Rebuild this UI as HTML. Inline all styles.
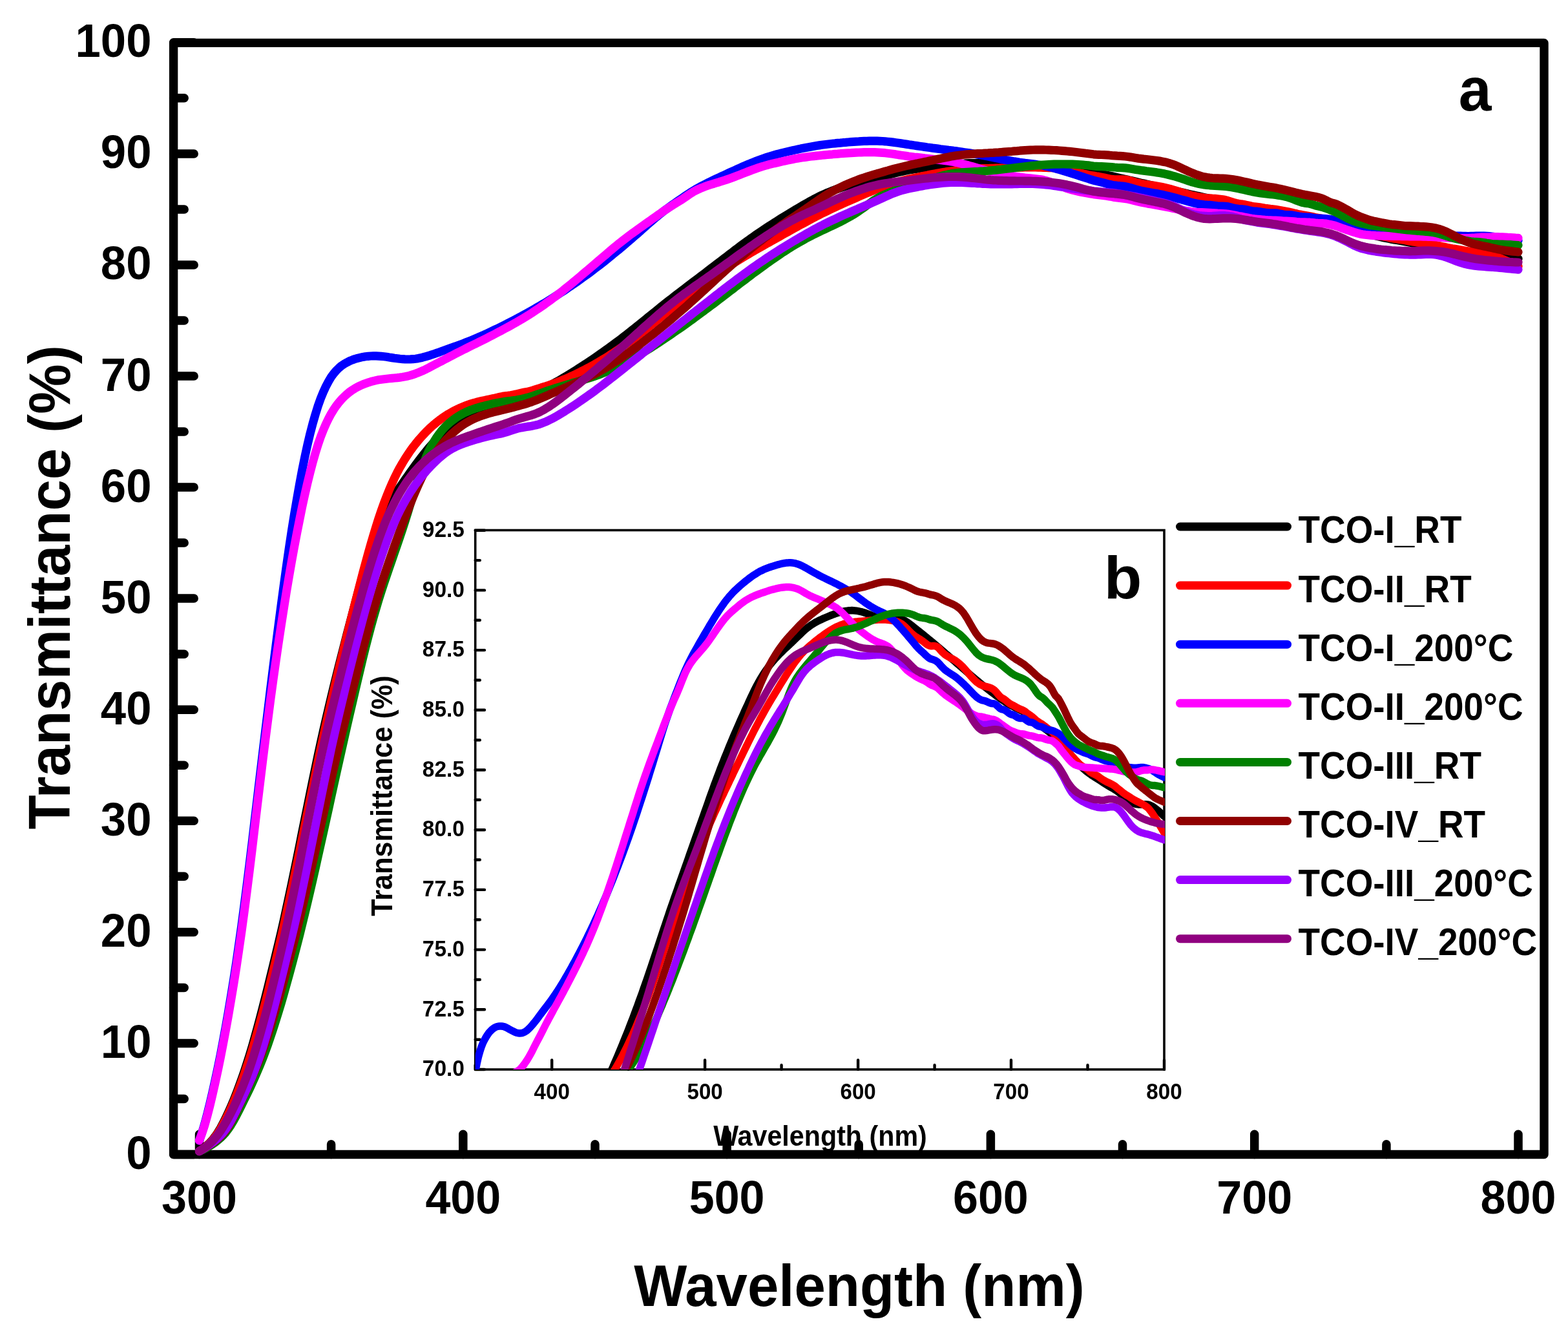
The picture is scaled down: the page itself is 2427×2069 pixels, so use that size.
<!DOCTYPE html>
<html lang="en">
<head>
<meta charset="utf-8">
<title>Transmittance spectra of TCO films</title>
<style>
html,body{margin:0;padding:0;background:#fff;}
body{width:2427px;height:2069px;overflow:hidden;}
svg{display:block;}
text{font-family:"Liberation Sans",Arial,Helvetica,sans-serif;font-weight:bold;fill:#000;}
.mt{font-size:70px;}
.mtitle{font-size:87px;}
.it{font-size:33.5px;}
.ititle{font-size:42px;}
.leg{font-size:56px;}
.lab{font-size:96px;}
.c{fill:none;stroke-linejoin:round;stroke-linecap:round;}
.ax{fill:none;stroke:#000;stroke-linecap:round;stroke-linejoin:round;}
</style>
</head>
<body>
<svg xmlns="http://www.w3.org/2000/svg" width="2427" height="2069" viewBox="0 0 2427 2069">
<rect x="0" y="0" width="2427" height="2069" fill="#fff"/>
<defs><clipPath id="ic"><rect x="735.7" y="820.5" width="1067.3" height="834.5"/></clipPath><clipPath id="mc"><rect x="268.6" y="66.4" width="2121.4" height="1728.1"/></clipPath></defs>
<rect class="ax" x="268.6" y="66.4" width="2121.4" height="1720.1" stroke-width="13.4"/>
<g class="ax" stroke-width="13.5">
<path d="M308.5 1786.5V1755.2M512.6 1786.5V1770.8M716.8 1786.5V1755.2M921 1786.5V1770.8M1125.1 1786.5V1755.2M1329.2 1786.5V1770.8M1533.4 1786.5V1755.2M1737.5 1786.5V1770.8M1941.7 1786.5V1755.2M2145.9 1786.5V1770.8M2350 1786.5V1755.2M268.6 1786.5H300.2M268.6 1700.5H285.2M268.6 1614.4H300.2M268.6 1528.4H285.2M268.6 1442.4H300.2M268.6 1356.3H285.2M268.6 1270.3H300.2M268.6 1184.3H285.2M268.6 1098.2H300.2M268.6 1012.2H285.2M268.6 926.1H300.2M268.6 840.1H285.2M268.6 754.1H300.2M268.6 668H285.2M268.6 582H300.2M268.6 496H285.2M268.6 409.9H300.2M268.6 323.9H285.2M268.6 237.9H300.2M268.6 151.8H285.2M268.6 65.8H300.2"/>
</g>
<g class="c" stroke-width="13.2">
<path stroke="#000000" d="M308.5 1781.6 L312.6 1778.8 L316.7 1775.8 L320.7 1772.4 L324.8 1768.5 L328.9 1764 L333 1758.6 L337.1 1752.6 L341.2 1745.8 L345.2 1738.4 L349.3 1730.3 L353.4 1721.6 L357.5 1712.4 L361.6 1702.7 L365.7 1692.5 L369.7 1681.8 L373.8 1670.6 L377.9 1658.8 L382 1646.4 L386.1 1633.4 L390.2 1619.8 L394.2 1605.7 L398.3 1590.9 L402.4 1575.7 L406.5 1560 L410.6 1544 L414.7 1527.7 L418.7 1511.1 L422.8 1494.3 L426.9 1477.3 L431 1460.3 L435.1 1442.9 L439.2 1424.9 L443.2 1406.4 L447.3 1387.5 L451.4 1368.1 L455.5 1348.4 L459.6 1328.5 L463.7 1308.4 L467.7 1288.1 L471.8 1267.9 L475.9 1247.7 L480 1227.6 L484.1 1207.7 L488.2 1188.1 L492.2 1168.8 L496.3 1149.9 L500.4 1131.4 L504.5 1113.6 L508.6 1096 L512.6 1078.9 L516.7 1062.1 L520.8 1045.5 L524.9 1029.2 L529 1013.1 L533.1 997.2 L537.1 981.5 L541.2 965.9 L545.3 950.4 L549.4 934.9 L553.5 919.5 L557.6 904.3 L561.6 889.4 L565.7 874.9 L569.8 860.9 L573.9 847.4 L578 834.6 L582.1 822.6 L586.1 811.4 L590.2 801.2 L594.3 792.1 L598.4 784.4 L602.5 778.2 L606.6 772.2 L610.6 766.1 L614.7 760.1 L618.8 754.1 L622.9 748.2 L627 742.3 L631.1 736.5 L635.1 730.7 L639.2 725 L643.3 719.4 L647.4 713.9 L651.5 708.6 L655.6 703.3 L659.6 698.2 L663.7 693.3 L667.8 688.6 L671.9 684.1 L676 679.8 L680.1 675.7 L684.1 671.9 L688.2 668.4 L692.3 665.1 L696.4 662 L700.5 659.1 L704.6 656.4 L708.6 653.8 L712.7 651.5 L716.8 649.3 L720.9 647.3 L725 645.4 L729 643.7 L733.1 642 L737.2 640.4 L741.3 638.8 L745.4 637.3 L749.5 635.6 L753.5 633.9 L757.6 632.2 L761.7 630.5 L765.8 628.8 L769.9 627.2 L774 625.6 L778 624.2 L782.1 623.1 L786.2 622.8 L790.3 622.9 L794.4 623.2 L798.5 623.3 L802.5 623.1 L806.6 622.2 L810.7 620.4 L814.8 618.1 L818.9 615.7 L823 613.5 L827 611 L831.1 608.4 L835.2 605.8 L839.3 603.3 L843.4 600.9 L847.5 598.5 L851.5 596.3 L855.6 594.1 L859.7 591.8 L863.8 589.6 L867.9 587.2 L872 584.8 L876 582.4 L880.1 579.9 L884.2 577.4 L888.3 574.8 L892.4 572.3 L896.5 569.6 L900.5 567 L904.6 564.4 L908.7 561.7 L912.8 558.9 L916.9 556.2 L921 553.4 L925 550.6 L929.1 547.8 L933.2 544.9 L937.3 542 L941.4 539 L945.4 536.1 L949.5 533.1 L953.6 530 L957.7 527 L961.8 523.9 L965.9 520.7 L969.9 517.6 L974 514.4 L978.1 511.1 L982.2 507.9 L986.3 504.6 L990.4 501.3 L994.4 498.1 L998.5 494.8 L1002.6 491.5 L1006.7 488.2 L1010.8 484.9 L1014.9 481.6 L1018.9 478.3 L1023 475 L1027.1 471.8 L1031.2 468.5 L1035.3 465.3 L1039.4 462.1 L1043.4 459 L1047.5 455.8 L1051.6 452.7 L1055.7 449.6 L1059.8 446.5 L1063.9 443.3 L1067.9 440.2 L1072 437.1 L1076.1 434 L1080.2 430.9 L1084.3 427.8 L1088.4 424.7 L1092.4 421.6 L1096.5 418.4 L1100.6 415.3 L1104.7 412.2 L1108.8 409.1 L1112.9 406 L1116.9 402.9 L1121 399.8 L1125.1 396.7 L1129.2 393.5 L1133.3 390.4 L1137.3 387.3 L1141.4 384.2 L1145.5 381.2 L1149.6 378.1 L1153.7 375.1 L1157.8 372.2 L1161.8 369.2 L1165.9 366.4 L1170 363.5 L1174.1 360.7 L1178.2 358 L1182.3 355.2 L1186.3 352.5 L1190.4 349.8 L1194.5 347.2 L1198.6 344.6 L1202.7 342 L1206.8 339.4 L1210.8 336.8 L1214.9 334.3 L1219 331.9 L1223.1 329.4 L1227.2 327 L1231.3 324.5 L1235.3 322.1 L1239.4 319.7 L1243.5 317.3 L1247.6 315 L1251.7 312.6 L1255.8 310.4 L1259.8 308.1 L1263.9 306 L1268 304 L1272.1 302 L1276.2 300.2 L1280.3 298.4 L1284.3 296.8 L1288.4 295.2 L1292.5 293.6 L1296.6 292.2 L1300.7 290.8 L1304.8 289.4 L1308.8 288.2 L1312.9 286.9 L1317 285.7 L1321.1 284.6 L1325.2 283.4 L1329.2 282.3 L1333.3 281.3 L1337.4 280.2 L1341.5 279.2 L1345.6 278.1 L1349.7 277.1 L1353.7 276.1 L1357.8 275.1 L1361.9 274 L1366 273 L1370.1 271.9 L1374.2 270.8 L1378.2 269.7 L1382.3 268.7 L1386.4 267.7 L1390.5 266.7 L1394.6 265.7 L1398.7 264.8 L1402.7 263.9 L1406.8 263.1 L1410.9 262.4 L1415 261.7 L1419.1 261.1 L1423.2 260.5 L1427.2 259.9 L1431.3 259.4 L1435.4 258.9 L1439.5 258.4 L1443.6 257.9 L1447.7 257.4 L1451.7 256.9 L1455.8 256.5 L1459.9 256 L1464 255.6 L1468.1 255.2 L1472.2 254.8 L1476.2 254.4 L1480.3 254.1 L1484.4 253.7 L1488.5 253.4 L1492.6 253.2 L1496.7 252.9 L1500.7 252.7 L1504.8 252.6 L1508.9 252.5 L1513 252.4 L1517.1 252.4 L1521.2 252.4 L1525.2 252.5 L1529.3 252.6 L1533.4 252.8 L1537.5 253 L1541.6 253.3 L1545.6 253.6 L1549.7 253.9 L1553.8 254.3 L1557.9 254.7 L1562 255.1 L1566.1 255.5 L1570.1 256 L1574.2 256.3 L1578.3 256.7 L1582.4 257 L1586.5 257.2 L1590.6 257.4 L1594.6 257.6 L1598.7 257.7 L1602.8 257.7 L1606.9 257.7 L1611 257.7 L1615.1 257.7 L1619.1 257.7 L1623.2 257.7 L1627.3 257.7 L1631.4 257.7 L1635.5 257.8 L1639.6 258 L1643.6 258.2 L1647.7 258.5 L1651.8 258.9 L1655.9 259.4 L1660 260 L1664.1 260.7 L1668.1 261.5 L1672.2 262.3 L1676.3 263.1 L1680.4 264 L1684.5 264.9 L1688.6 265.8 L1692.6 266.7 L1696.7 267.5 L1700.8 268.4 L1704.9 269.3 L1709 270.2 L1713.1 271.1 L1717.1 271.9 L1721.2 272.8 L1725.3 273.7 L1729.4 274.6 L1733.5 275.6 L1737.5 276.5 L1741.6 277.4 L1745.7 278.3 L1749.8 279.3 L1753.9 280.2 L1758 281.2 L1762 282.1 L1766.1 283.1 L1770.2 284 L1774.3 285 L1778.4 285.9 L1782.5 286.9 L1786.5 287.8 L1790.6 288.8 L1794.7 289.7 L1798.8 290.7 L1802.9 291.7 L1807 292.6 L1811 293.6 L1815.1 294.5 L1819.2 295.5 L1823.3 296.4 L1827.4 297.4 L1831.5 298.3 L1835.5 299.2 L1839.6 300.2 L1843.7 301.1 L1847.8 302 L1851.9 302.9 L1856 303.8 L1860 304.7 L1864.1 305.6 L1868.2 306.5 L1872.3 307.4 L1876.4 308.3 L1880.5 309.1 L1884.5 310 L1888.6 310.8 L1892.7 311.7 L1896.8 312.5 L1900.9 313.3 L1905 314.1 L1909 314.9 L1913.1 315.7 L1917.2 316.5 L1921.3 317.2 L1925.4 318 L1929.5 318.7 L1933.5 319.4 L1937.6 320 L1941.7 320.6 L1945.8 321.2 L1949.9 321.7 L1953.9 322.3 L1958 322.8 L1962.1 323.3 L1966.2 323.9 L1970.3 324.5 L1974.4 325.1 L1978.4 325.7 L1982.5 326.4 L1986.6 327.2 L1990.7 328.1 L1994.8 329 L1998.9 330 L2002.9 331 L2007 332 L2011.1 333 L2015.2 333.9 L2019.3 334.8 L2023.4 335.6 L2027.4 336.4 L2031.5 337.3 L2035.6 338.1 L2039.7 338.9 L2043.8 339.8 L2047.9 340.8 L2051.9 341.7 L2056 342.7 L2060.1 343.8 L2064.2 344.8 L2068.3 345.9 L2072.4 347.1 L2076.4 348.2 L2080.5 349.5 L2084.6 350.8 L2088.7 352.1 L2092.8 353.5 L2096.9 354.8 L2100.9 356.1 L2105 357.4 L2109.1 358.7 L2113.2 360 L2117.3 361.3 L2121.4 362.5 L2125.4 363.7 L2129.5 364.8 L2133.6 365.8 L2137.7 366.8 L2141.8 367.7 L2145.9 368.6 L2149.9 369.4 L2154 370.2 L2158.1 370.9 L2162.2 371.6 L2166.3 372.3 L2170.3 373 L2174.4 373.7 L2178.5 374.4 L2182.6 375.2 L2186.7 375.9 L2190.8 376.6 L2194.8 377.3 L2198.9 378 L2203 378.6 L2207.1 379.3 L2211.2 379.9 L2215.3 380.5 L2219.3 381.2 L2223.4 381.9 L2227.5 382.8 L2231.6 383.6 L2235.7 384.6 L2239.8 385.6 L2243.8 386.5 L2247.9 387.5 L2252 388.4 L2256.1 389.2 L2260.2 389.9 L2264.3 390.5 L2268.3 391 L2272.4 391.3 L2276.5 391.5 L2280.6 391.7 L2284.7 391.7 L2288.8 391.7 L2292.8 391.7 L2296.9 391.6 L2301 391.6 L2305.1 391.7 L2309.2 391.9 L2313.3 392.4 L2317.3 392.9 L2321.4 393.6 L2325.5 394.4 L2329.6 395.2 L2333.7 396.1 L2337.8 397.1 L2341.8 398.1 L2345.9 399.2 L2350 400.3"/>
<path stroke="#ff0000" d="M308.5 1781.6 L312.6 1778.9 L316.7 1775.9 L320.7 1772.6 L324.8 1768.9 L328.9 1764.5 L333 1759.4 L337.1 1753.7 L341.2 1747.2 L345.2 1740.1 L349.3 1732.3 L353.4 1723.9 L357.5 1715 L361.6 1705.6 L365.7 1695.8 L369.7 1685.4 L373.8 1674.5 L377.9 1663.2 L382 1651.2 L386.1 1638.7 L390.2 1625.7 L394.2 1612 L398.3 1597.8 L402.4 1583.1 L406.5 1567.9 L410.6 1552.3 L414.7 1536.3 L418.7 1519.9 L422.8 1503.2 L426.9 1486.2 L431 1468.9 L435.1 1451.5 L439.2 1433.5 L443.2 1415 L447.3 1396.2 L451.4 1377 L455.5 1357.5 L459.6 1337.8 L463.7 1317.9 L467.7 1297.9 L471.8 1277.8 L475.9 1257.7 L480 1237.7 L484.1 1217.8 L488.2 1198.1 L492.2 1178.6 L496.3 1159.3 L500.4 1140.4 L504.5 1122 L508.6 1103.9 L512.6 1086.1 L516.7 1068.5 L520.8 1051.1 L524.9 1033.9 L529 1016.9 L533.1 1000.1 L537.1 983.5 L541.2 967 L545.3 950.6 L549.4 934.4 L553.5 918.3 L557.6 902.4 L561.6 886.8 L565.7 871.6 L569.8 856.7 L573.9 842.3 L578 828.4 L582.1 815 L586.1 802.3 L590.2 790.2 L594.3 778.8 L598.4 768.1 L602.5 757.9 L606.6 748.5 L610.6 739.6 L614.7 731.4 L618.8 723.7 L622.9 716.6 L627 709.9 L631.1 703.6 L635.1 697.6 L639.2 692 L643.3 686.7 L647.4 681.7 L651.5 677 L655.6 672.5 L659.6 668.2 L663.7 664.2 L667.8 660.4 L671.9 656.8 L676 653.4 L680.1 650.2 L684.1 647.3 L688.2 644.5 L692.3 641.8 L696.4 639.4 L700.5 637.1 L704.6 634.9 L708.6 632.9 L712.7 631 L716.8 629.3 L720.9 627.7 L725 626.2 L729 624.8 L733.1 623.6 L737.2 622.5 L741.3 621.5 L745.4 620.5 L749.5 619.6 L753.5 618.8 L757.6 617.9 L761.7 617 L765.8 616.1 L769.9 615.2 L774 614.2 L778 613.4 L782.1 612.8 L786.2 612.3 L790.3 611.7 L794.4 610.9 L798.5 610.1 L802.5 609.2 L806.6 608.2 L810.7 607.3 L814.8 606.6 L818.9 605.7 L823 604.7 L827 603.4 L831.1 602 L835.2 600.7 L839.3 599.4 L843.4 598.2 L847.5 596.9 L851.5 595.5 L855.6 594.1 L859.7 592.6 L863.8 591 L867.9 589.4 L872 587.7 L876 586 L880.1 584.2 L884.2 582.3 L888.3 580.4 L892.4 578.5 L896.5 576.5 L900.5 574.4 L904.6 572.3 L908.7 570.2 L912.8 568 L916.9 565.8 L921 563.5 L925 561.1 L929.1 558.7 L933.2 556.3 L937.3 553.8 L941.4 551.2 L945.4 548.6 L949.5 546 L953.6 543.3 L957.7 540.6 L961.8 537.8 L965.9 534.9 L969.9 532 L974 529.1 L978.1 526.1 L982.2 523.1 L986.3 520 L990.4 516.8 L994.4 513.7 L998.5 510.5 L1002.6 507.2 L1006.7 503.9 L1010.8 500.6 L1014.9 497.3 L1018.9 494 L1023 490.7 L1027.1 487.3 L1031.2 484 L1035.3 480.6 L1039.4 477.3 L1043.4 474 L1047.5 470.7 L1051.6 467.4 L1055.7 464.2 L1059.8 460.9 L1063.9 457.7 L1067.9 454.6 L1072 451.5 L1076.1 448.4 L1080.2 445.3 L1084.3 442.3 L1088.4 439.3 L1092.4 436.3 L1096.5 433.4 L1100.6 430.5 L1104.7 427.7 L1108.8 424.8 L1112.9 422.1 L1116.9 419.3 L1121 416.6 L1125.1 413.9 L1129.2 411.3 L1133.3 408.7 L1137.3 406.1 L1141.4 403.6 L1145.5 401.1 L1149.6 398.6 L1153.7 396.1 L1157.8 393.7 L1161.8 391.3 L1165.9 389 L1170 386.6 L1174.1 384.3 L1178.2 382 L1182.3 379.7 L1186.3 377.3 L1190.4 375.1 L1194.5 372.8 L1198.6 370.5 L1202.7 368.2 L1206.8 365.9 L1210.8 363.6 L1214.9 361.3 L1219 359.1 L1223.1 356.8 L1227.2 354.5 L1231.3 352.3 L1235.3 350 L1239.4 347.8 L1243.5 345.6 L1247.6 343.4 L1251.7 341.2 L1255.8 339 L1259.8 336.8 L1263.9 334.7 L1268 332.6 L1272.1 330.5 L1276.2 328.5 L1280.3 326.5 L1284.3 324.6 L1288.4 322.6 L1292.5 320.7 L1296.6 318.8 L1300.7 317 L1304.8 315.1 L1308.8 313.3 L1312.9 311.5 L1317 309.7 L1321.1 307.9 L1325.2 306.1 L1329.2 304.3 L1333.3 302.5 L1337.4 300.7 L1341.5 299 L1345.6 297.3 L1349.7 295.6 L1353.7 293.9 L1357.8 292.3 L1361.9 290.7 L1366 289.2 L1370.1 287.7 L1374.2 286.3 L1378.2 285 L1382.3 283.7 L1386.4 282.5 L1390.5 281.3 L1394.6 280.2 L1398.7 279.2 L1402.7 278.2 L1406.8 277.2 L1410.9 276.3 L1415 275.4 L1419.1 274.6 L1423.2 273.7 L1427.2 272.8 L1431.3 272 L1435.4 271.2 L1439.5 270.3 L1443.6 269.5 L1447.7 268.8 L1451.7 268 L1455.8 267.3 L1459.9 266.6 L1464 265.9 L1468.1 265.3 L1472.2 264.7 L1476.2 264.2 L1480.3 263.6 L1484.4 263.2 L1488.5 262.7 L1492.6 262.3 L1496.7 262 L1500.7 261.7 L1504.8 261.4 L1508.9 261.2 L1513 261 L1517.1 260.8 L1521.2 260.7 L1525.2 260.6 L1529.3 260.5 L1533.4 260.4 L1537.5 260.3 L1541.6 260.2 L1545.6 260.1 L1549.7 260 L1553.8 259.9 L1557.9 259.8 L1562 259.7 L1566.1 259.5 L1570.1 259.4 L1574.2 259.3 L1578.3 259.2 L1582.4 259.1 L1586.5 259 L1590.6 259 L1594.6 259 L1598.7 259 L1602.8 259 L1606.9 259.1 L1611 259.2 L1615.1 259.3 L1619.1 259.4 L1623.2 259.6 L1627.3 259.7 L1631.4 260 L1635.5 260.3 L1639.6 260.6 L1643.6 261.1 L1647.7 261.7 L1651.8 262.4 L1655.9 263.3 L1660 264.4 L1664.1 265.5 L1668.1 266.6 L1672.2 267.8 L1676.3 268.9 L1680.4 269.8 L1684.5 270.7 L1688.6 271.4 L1692.6 272.1 L1696.7 272.8 L1700.8 273.4 L1704.9 274.2 L1709 275 L1713.1 275.9 L1717.1 276.7 L1721.2 277.4 L1725.3 277.8 L1729.4 277.9 L1733.5 277.9 L1737.5 277.9 L1741.6 278.1 L1745.7 278.7 L1749.8 279.8 L1753.9 281 L1758 282.3 L1762 283.3 L1766.1 284.2 L1770.2 285 L1774.3 285.6 L1778.4 286.2 L1782.5 286.8 L1786.5 287.4 L1790.6 288 L1794.7 288.7 L1798.8 289.5 L1802.9 290.4 L1807 291.4 L1811 292.4 L1815.1 293.6 L1819.2 294.8 L1823.3 296.1 L1827.4 297.4 L1831.5 298.7 L1835.5 299.9 L1839.6 301.2 L1843.7 302.3 L1847.8 303.3 L1851.9 304.2 L1856 305 L1860 305.6 L1864.1 306.2 L1868.2 306.6 L1872.3 306.9 L1876.4 307.2 L1880.5 307.4 L1884.5 307.8 L1888.6 308.2 L1892.7 308.8 L1896.8 309.6 L1900.9 310.7 L1905 312 L1909 313.3 L1913.1 314.4 L1917.2 315.2 L1921.3 315.9 L1925.4 316.5 L1929.5 317.4 L1933.5 318.3 L1937.6 319.2 L1941.7 319.9 L1945.8 320.4 L1949.9 320.9 L1953.9 321.5 L1958 322.2 L1962.1 322.8 L1966.2 323.3 L1970.3 323.7 L1974.4 324.2 L1978.4 324.9 L1982.5 325.7 L1986.6 326.5 L1990.7 327.3 L1994.8 328.1 L1998.9 328.9 L2002.9 329.9 L2007 330.8 L2011.1 331.8 L2015.2 332.6 L2019.3 333.2 L2023.4 333.9 L2027.4 334.7 L2031.5 335.5 L2035.6 336.4 L2039.7 337.2 L2043.8 338 L2047.9 338.8 L2051.9 339.7 L2056 340.9 L2060.1 342.2 L2064.2 343.4 L2068.3 344.5 L2072.4 345.9 L2076.4 347.3 L2080.5 348.7 L2084.6 350.1 L2088.7 351.6 L2092.8 353.2 L2096.9 354.6 L2100.9 356 L2105 357.3 L2109.1 358.4 L2113.2 359.6 L2117.3 360.8 L2121.4 361.9 L2125.4 363 L2129.5 363.9 L2133.6 364.6 L2137.7 365.2 L2141.8 365.9 L2145.9 366.7 L2149.9 367.7 L2154 368.6 L2158.1 369.3 L2162.2 369.8 L2166.3 370.4 L2170.3 370.9 L2174.4 371.6 L2178.5 372.5 L2182.6 373.3 L2186.7 373.9 L2190.8 374.6 L2194.8 375.2 L2198.9 375.7 L2203 376.2 L2207.1 376.8 L2211.2 377.3 L2215.3 377.9 L2219.3 378.7 L2223.4 379.6 L2227.5 380.6 L2231.6 381.4 L2235.7 382.2 L2239.8 383.1 L2243.8 384 L2247.9 384.7 L2252 385.3 L2256.1 386 L2260.2 386.7 L2264.3 387.5 L2268.3 388.2 L2272.4 388.8 L2276.5 389.3 L2280.6 389.9 L2284.7 390.5 L2288.8 391.1 L2292.8 391.6 L2296.9 392.2 L2301 393 L2305.1 393.8 L2309.2 394.9 L2313.3 396.2 L2317.3 397.7 L2321.4 399.3 L2325.5 401 L2329.6 402.8 L2333.7 404.6 L2337.8 406.4 L2341.8 408.3 L2345.9 410.2 L2350 412.1"/>
<path stroke="#0000ff" d="M308.5 1765 L312.6 1752.9 L316.7 1739.5 L320.7 1724.5 L324.8 1708.1 L328.9 1690.5 L333 1672 L337.1 1652.8 L341.2 1632.8 L345.2 1611.6 L349.3 1589.4 L353.4 1566.1 L357.5 1541.7 L361.6 1516.3 L365.7 1489.9 L369.7 1462.2 L373.8 1433.1 L377.9 1402.5 L382 1370.6 L386.1 1337.7 L390.2 1304 L394.2 1269.8 L398.3 1235.3 L402.4 1200.6 L406.5 1166.2 L410.6 1132.2 L414.7 1098.8 L418.7 1065.6 L422.8 1032.7 L426.9 1000.3 L431 968.3 L435.1 937.1 L439.2 906.7 L443.2 877.3 L447.3 848.9 L451.4 821.8 L455.5 796.1 L459.6 772 L463.7 749 L467.7 727.4 L471.8 707.2 L475.9 688.4 L480 671.1 L484.1 655.4 L488.2 641.1 L492.2 628.3 L496.3 616.8 L500.4 606.7 L504.5 597.8 L508.6 590.1 L512.6 583.4 L516.7 577.8 L520.8 573.1 L524.9 569.1 L529 565.7 L533.1 563 L537.1 560.8 L541.2 558.7 L545.3 557 L549.4 555.5 L553.5 554.3 L557.6 553.3 L561.6 552.4 L565.7 551.7 L569.8 551.3 L573.9 551 L578 550.9 L582.1 550.9 L586.1 551.1 L590.2 551.4 L594.3 551.8 L598.4 552.3 L602.5 553 L606.6 553.6 L610.6 554.2 L614.7 554.7 L618.8 555.3 L622.9 555.7 L627 555.9 L631.1 556 L635.1 555.9 L639.2 555.7 L643.3 555.2 L647.4 554.6 L651.5 553.8 L655.6 552.7 L659.6 551.6 L663.7 550.4 L667.8 549 L671.9 547.7 L676 546.3 L680.1 544.9 L684.1 543.4 L688.2 541.9 L692.3 540.4 L696.4 538.9 L700.5 537.5 L704.6 536.1 L708.6 534.6 L712.7 533.1 L716.8 531.6 L720.9 530 L725 528.4 L729 526.8 L733.1 525.1 L737.2 523.4 L741.3 521.6 L745.4 519.8 L749.5 518 L753.5 516.1 L757.6 514.2 L761.7 512.3 L765.8 510.3 L769.9 508.4 L774 506.4 L778 504.4 L782.1 502.3 L786.2 500.3 L790.3 498.2 L794.4 496 L798.5 493.9 L802.5 491.7 L806.6 489.6 L810.7 487.3 L814.8 485.1 L818.9 482.8 L823 480.5 L827 478.2 L831.1 475.8 L835.2 473.4 L839.3 471 L843.4 468.6 L847.5 466.1 L851.5 463.6 L855.6 461 L859.7 458.4 L863.8 455.8 L867.9 453.1 L872 450.4 L876 447.7 L880.1 444.9 L884.2 442.2 L888.3 439.3 L892.4 436.5 L896.5 433.6 L900.5 430.7 L904.6 427.7 L908.7 424.8 L912.8 421.8 L916.9 418.7 L921 415.6 L925 412.5 L929.1 409.4 L933.2 406.2 L937.3 403 L941.4 399.7 L945.4 396.4 L949.5 393 L953.6 389.7 L957.7 386.3 L961.8 382.9 L965.9 379.4 L969.9 376 L974 372.5 L978.1 369 L982.2 365.4 L986.3 361.9 L990.4 358.3 L994.4 354.7 L998.5 351 L1002.6 347.4 L1006.7 343.8 L1010.8 340.3 L1014.9 336.8 L1018.9 333.4 L1023 330.1 L1027.1 326.9 L1031.2 323.8 L1035.3 320.9 L1039.4 318 L1043.4 315.1 L1047.5 312.3 L1051.6 309.4 L1055.7 306.6 L1059.8 303.8 L1063.9 301.1 L1067.9 298.4 L1072 295.8 L1076.1 293.3 L1080.2 291 L1084.3 288.7 L1088.4 286.6 L1092.4 284.5 L1096.5 282.4 L1100.6 280.5 L1104.7 278.5 L1108.8 276.6 L1112.9 274.7 L1116.9 272.8 L1121 270.9 L1125.1 269 L1129.2 267.1 L1133.3 265.2 L1137.3 263.4 L1141.4 261.5 L1145.5 259.7 L1149.6 257.9 L1153.7 256.2 L1157.8 254.4 L1161.8 252.7 L1165.9 251.1 L1170 249.5 L1174.1 247.9 L1178.2 246.4 L1182.3 245 L1186.3 243.6 L1190.4 242.3 L1194.5 241.1 L1198.6 239.9 L1202.7 238.7 L1206.8 237.7 L1210.8 236.6 L1214.9 235.6 L1219 234.6 L1223.1 233.7 L1227.2 232.8 L1231.3 231.9 L1235.3 231 L1239.4 230.1 L1243.5 229.3 L1247.6 228.5 L1251.7 227.7 L1255.8 226.9 L1259.8 226.2 L1263.9 225.5 L1268 224.9 L1272.1 224.3 L1276.2 223.7 L1280.3 223.2 L1284.3 222.7 L1288.4 222.3 L1292.5 221.9 L1296.6 221.4 L1300.7 221.1 L1304.8 220.7 L1308.8 220.4 L1312.9 220 L1317 219.7 L1321.1 219.4 L1325.2 219.1 L1329.2 218.9 L1333.3 218.6 L1337.4 218.4 L1341.5 218.3 L1345.6 218.1 L1349.7 218.1 L1353.7 218.1 L1357.8 218.2 L1361.9 218.3 L1366 218.5 L1370.1 218.8 L1374.2 219.2 L1378.2 219.6 L1382.3 220.1 L1386.4 220.7 L1390.5 221.3 L1394.6 221.9 L1398.7 222.5 L1402.7 223.1 L1406.8 223.8 L1410.9 224.4 L1415 225 L1419.1 225.6 L1423.2 226.2 L1427.2 226.8 L1431.3 227.4 L1435.4 228 L1439.5 228.5 L1443.6 229.1 L1447.7 229.6 L1451.7 230.1 L1455.8 230.7 L1459.9 231.2 L1464 231.7 L1468.1 232.3 L1472.2 232.8 L1476.2 233.4 L1480.3 233.9 L1484.4 234.5 L1488.5 235.1 L1492.6 235.7 L1496.7 236.3 L1500.7 236.9 L1504.8 237.6 L1508.9 238.3 L1513 239 L1517.1 239.7 L1521.2 240.5 L1525.2 241.3 L1529.3 242.1 L1533.4 242.9 L1537.5 243.8 L1541.6 244.6 L1545.6 245.4 L1549.7 246.2 L1553.8 247 L1557.9 247.8 L1562 248.5 L1566.1 249.2 L1570.1 249.9 L1574.2 250.5 L1578.3 251.2 L1582.4 251.7 L1586.5 252.3 L1590.6 252.8 L1594.6 253.3 L1598.7 253.8 L1602.8 254.4 L1606.9 255 L1611 255.6 L1615.1 256.3 L1619.1 257.2 L1623.2 258.1 L1627.3 259.1 L1631.4 260.2 L1635.5 261.3 L1639.6 262.5 L1643.6 263.7 L1647.7 265 L1651.8 266.2 L1655.9 267.4 L1660 268.7 L1664.1 270 L1668.1 271.3 L1672.2 272.6 L1676.3 273.9 L1680.4 275.2 L1684.5 276.5 L1688.6 277.9 L1692.6 279.1 L1696.7 280.2 L1700.8 281.2 L1704.9 282.2 L1709 283.2 L1713.1 284.3 L1717.1 285.3 L1721.2 286.2 L1725.3 286.9 L1729.4 287.4 L1733.5 287.7 L1737.5 288.1 L1741.6 288.6 L1745.7 289.5 L1749.8 290.6 L1753.9 291.8 L1758 293.1 L1762 294.2 L1766.1 295.2 L1770.2 296 L1774.3 296.8 L1778.4 297.5 L1782.5 298.2 L1786.5 298.9 L1790.6 299.6 L1794.7 300.4 L1798.8 301.2 L1802.9 302.2 L1807 303.1 L1811 304.1 L1815.1 305.2 L1819.2 306.2 L1823.3 307.3 L1827.4 308.5 L1831.5 309.6 L1835.5 310.7 L1839.6 311.9 L1843.7 313 L1847.8 314.1 L1851.9 315 L1856 315.8 L1860 316.4 L1864.1 316.8 L1868.2 317.1 L1872.3 317.3 L1876.4 317.8 L1880.5 318.3 L1884.5 318.8 L1888.6 319.1 L1892.7 319.2 L1896.8 319.3 L1900.9 319.9 L1905 320.9 L1909 322 L1913.1 322.9 L1917.2 323.4 L1921.3 323.6 L1925.4 324 L1929.5 324.8 L1933.5 325.7 L1937.6 326.5 L1941.7 327 L1945.8 327.2 L1949.9 327.7 L1953.9 328.4 L1958 329.1 L1962.1 329.7 L1966.2 329.9 L1970.3 329.8 L1974.4 329.8 L1978.4 330.4 L1982.5 331.2 L1986.6 332 L1990.7 332.5 L1994.8 332.7 L1998.9 332.9 L2002.9 333.5 L2007 334.3 L2011.1 335 L2015.2 335.6 L2019.3 335.8 L2023.4 336 L2027.4 336.4 L2031.5 337 L2035.6 337.6 L2039.7 338 L2043.8 338.2 L2047.9 338.4 L2051.9 338.6 L2056 339.1 L2060.1 339.6 L2064.2 340.2 L2068.3 340.7 L2072.4 341.6 L2076.4 342.6 L2080.5 343.7 L2084.6 344.8 L2088.7 345.9 L2092.8 347.1 L2096.9 348.1 L2100.9 349.1 L2105 350 L2109.1 350.9 L2113.2 351.6 L2117.3 352.2 L2121.4 352.8 L2125.4 353.3 L2129.5 353.8 L2133.6 354.2 L2137.7 354.6 L2141.8 355 L2145.9 355.3 L2149.9 355.8 L2154 356.4 L2158.1 356.9 L2162.2 357.4 L2166.3 357.8 L2170.3 358 L2174.4 358.3 L2178.5 358.8 L2182.6 359.3 L2186.7 359.8 L2190.8 360.2 L2194.8 360.4 L2198.9 360.7 L2203 361 L2207.1 361.4 L2211.2 361.8 L2215.3 362.2 L2219.3 362.5 L2223.4 362.8 L2227.5 363.2 L2231.6 363.6 L2235.7 364 L2239.8 364.3 L2243.8 364.6 L2247.9 364.8 L2252 365 L2256.1 365.1 L2260.2 365.2 L2264.3 365.3 L2268.3 365.4 L2272.4 365.5 L2276.5 365.4 L2280.6 365.3 L2284.7 365.1 L2288.8 365 L2292.8 365.1 L2296.9 365.2 L2301 365.4 L2305.1 365.7 L2309.2 366 L2313.3 366.5 L2317.3 367.1 L2321.4 367.8 L2325.5 368.5 L2329.6 369.3 L2333.7 370 L2337.8 370.6 L2341.8 371.2 L2345.9 371.7 L2350 372.2"/>
<path stroke="#ff00ff" d="M308.5 1764.9 L312.6 1753.9 L316.7 1741.4 L320.7 1727.1 L324.8 1711.3 L328.9 1694 L333 1675.8 L337.1 1656.8 L341.2 1637 L345.2 1616.3 L349.3 1594.5 L353.4 1571.8 L357.5 1548 L361.6 1523.3 L365.7 1497.6 L369.7 1470.6 L373.8 1442.2 L377.9 1412.1 L382 1380.6 L386.1 1347.9 L390.2 1314.4 L394.2 1280.4 L398.3 1246.3 L402.4 1212.2 L406.5 1178.5 L410.6 1145.6 L414.7 1113.7 L418.7 1082.7 L422.8 1052.7 L426.9 1023.6 L431 995.4 L435.1 968.2 L439.2 942 L443.2 916.7 L447.3 892.3 L451.4 868.9 L455.5 846.4 L459.6 824.8 L463.7 804.1 L467.7 784.2 L471.8 765.4 L475.9 747.6 L480 730.9 L484.1 715.4 L488.2 701 L492.2 688 L496.3 676.2 L500.4 665.6 L504.5 656.1 L508.6 647.7 L512.6 640.2 L516.7 633.5 L520.8 627.6 L524.9 622.3 L529 617.7 L533.1 613.5 L537.1 609.8 L541.2 606.5 L545.3 603.6 L549.4 601.1 L553.5 598.8 L557.6 596.8 L561.6 595 L565.7 593.4 L569.8 592 L573.9 590.7 L578 589.6 L582.1 588.6 L586.1 587.8 L590.2 587.2 L594.3 586.7 L598.4 586.2 L602.5 585.8 L606.6 585.4 L610.6 585 L614.7 584.6 L618.8 584.1 L622.9 583.5 L627 582.8 L631.1 582 L635.1 580.9 L639.2 579.6 L643.3 578.2 L647.4 576.6 L651.5 574.9 L655.6 573.1 L659.6 571.2 L663.7 569.1 L667.8 566.9 L671.9 564.7 L676 562.6 L680.1 560.5 L684.1 558.5 L688.2 556.3 L692.3 554.1 L696.4 551.9 L700.5 549.8 L704.6 547.7 L708.6 545.6 L712.7 543.6 L716.8 541.5 L720.9 539.5 L725 537.4 L729 535.4 L733.1 533.4 L737.2 531.5 L741.3 529.4 L745.4 527.4 L749.5 525.3 L753.5 523.3 L757.6 521.2 L761.7 519.1 L765.8 517 L769.9 514.8 L774 512.7 L778 510.5 L782.1 508.3 L786.2 506.1 L790.3 503.9 L794.4 501.6 L798.5 499.3 L802.5 496.9 L806.6 494.6 L810.7 492.1 L814.8 489.6 L818.9 487.1 L823 484.5 L827 481.8 L831.1 479.1 L835.2 476.4 L839.3 473.5 L843.4 470.7 L847.5 467.7 L851.5 464.8 L855.6 461.7 L859.7 458.7 L863.8 455.5 L867.9 452.4 L872 449.2 L876 445.9 L880.1 442.6 L884.2 439.3 L888.3 435.9 L892.4 432.5 L896.5 429.1 L900.5 425.6 L904.6 422.2 L908.7 418.7 L912.8 415.2 L916.9 411.7 L921 408.2 L925 404.7 L929.1 401.2 L933.2 397.7 L937.3 394.3 L941.4 390.8 L945.4 387.3 L949.5 383.9 L953.6 380.5 L957.7 377.2 L961.8 374 L965.9 370.8 L969.9 367.7 L974 364.6 L978.1 361.5 L982.2 358.6 L986.3 355.6 L990.4 352.7 L994.4 349.8 L998.5 346.9 L1002.6 344 L1006.7 341.1 L1010.8 338.2 L1014.9 335.3 L1018.9 332.4 L1023 329.6 L1027.1 326.7 L1031.2 324 L1035.3 321.3 L1039.4 318.7 L1043.4 316.2 L1047.5 313.7 L1051.6 311.2 L1055.7 308.6 L1059.8 305.8 L1063.9 303 L1067.9 300.2 L1072 297.6 L1076.1 295.3 L1080.2 293.3 L1084.3 291.4 L1088.4 289.8 L1092.4 288.2 L1096.5 286.8 L1100.6 285.5 L1104.7 284.3 L1108.8 283 L1112.9 281.8 L1116.9 280.5 L1121 279.2 L1125.1 277.9 L1129.2 276.5 L1133.3 275 L1137.3 273.5 L1141.4 271.9 L1145.5 270.3 L1149.6 268.7 L1153.7 267.1 L1157.8 265.5 L1161.8 264 L1165.9 262.4 L1170 261 L1174.1 259.6 L1178.2 258.2 L1182.3 257 L1186.3 255.8 L1190.4 254.7 L1194.5 253.7 L1198.6 252.7 L1202.7 251.8 L1206.8 250.8 L1210.8 249.9 L1214.9 249 L1219 248.1 L1223.1 247.2 L1227.2 246.4 L1231.3 245.6 L1235.3 244.9 L1239.4 244.3 L1243.5 243.6 L1247.6 243.1 L1251.7 242.5 L1255.8 242 L1259.8 241.6 L1263.9 241.1 L1268 240.7 L1272.1 240.3 L1276.2 239.9 L1280.3 239.5 L1284.3 239.1 L1288.4 238.8 L1292.5 238.4 L1296.6 238.1 L1300.7 237.7 L1304.8 237.4 L1308.8 237.1 L1312.9 236.8 L1317 236.6 L1321.1 236.3 L1325.2 236.1 L1329.2 236 L1333.3 235.8 L1337.4 235.7 L1341.5 235.6 L1345.6 235.6 L1349.7 235.6 L1353.7 235.7 L1357.8 235.9 L1361.9 236.1 L1366 236.4 L1370.1 236.7 L1374.2 237.2 L1378.2 237.7 L1382.3 238.3 L1386.4 238.9 L1390.5 239.6 L1394.6 240.2 L1398.7 240.8 L1402.7 241.4 L1406.8 242 L1410.9 242.5 L1415 243 L1419.1 243.4 L1423.2 243.9 L1427.2 244.3 L1431.3 244.8 L1435.4 245.2 L1439.5 245.7 L1443.6 246.2 L1447.7 246.7 L1451.7 247.2 L1455.8 247.6 L1459.9 248.1 L1464 248.7 L1468.1 249.2 L1472.2 249.9 L1476.2 250.6 L1480.3 251.4 L1484.4 252.3 L1488.5 253.3 L1492.6 254.3 L1496.7 255.4 L1500.7 256.6 L1504.8 257.7 L1508.9 258.9 L1513 260.1 L1517.1 261.3 L1521.2 262.5 L1525.2 263.5 L1529.3 264.6 L1533.4 265.6 L1537.5 266.5 L1541.6 267.4 L1545.6 268.3 L1549.7 269.1 L1553.8 269.9 L1557.9 270.7 L1562 271.5 L1566.1 272.2 L1570.1 272.9 L1574.2 273.5 L1578.3 274.1 L1582.4 274.6 L1586.5 275.1 L1590.6 275.5 L1594.6 275.9 L1598.7 276.3 L1602.8 276.7 L1606.9 277.2 L1611 277.8 L1615.1 278.6 L1619.1 279.6 L1623.2 280.8 L1627.3 282.2 L1631.4 283.7 L1635.5 285.3 L1639.6 287 L1643.6 288.6 L1647.7 290.2 L1651.8 291.7 L1655.9 293 L1660 294.2 L1664.1 295.2 L1668.1 296.1 L1672.2 297 L1676.3 297.8 L1680.4 298.5 L1684.5 299.2 L1688.6 299.9 L1692.6 300.6 L1696.7 301.2 L1700.8 301.7 L1704.9 302.2 L1709 302.7 L1713.1 303.2 L1717.1 303.9 L1721.2 304.6 L1725.3 305.5 L1729.4 306 L1733.5 306.5 L1737.5 306.9 L1741.6 307.4 L1745.7 308.1 L1749.8 309 L1753.9 310.1 L1758 311.1 L1762 312.1 L1766.1 313 L1770.2 313.8 L1774.3 314.6 L1778.4 315.4 L1782.5 316.1 L1786.5 316.8 L1790.6 317.5 L1794.7 318.2 L1798.8 319 L1802.9 319.8 L1807 320.6 L1811 321.4 L1815.1 322.2 L1819.2 323.1 L1823.3 323.9 L1827.4 324.7 L1831.5 325.5 L1835.5 326.3 L1839.6 326.9 L1843.7 327.5 L1847.8 328 L1851.9 328.3 L1856 328.5 L1860 328.6 L1864.1 328.8 L1868.2 329 L1872.3 329.3 L1876.4 329.6 L1880.5 329.9 L1884.5 330.2 L1888.6 330.4 L1892.7 330.6 L1896.8 330.8 L1900.9 331.3 L1905 332 L1909 332.8 L1913.1 333.6 L1917.2 334.4 L1921.3 335.1 L1925.4 335.9 L1929.5 336.7 L1933.5 337.5 L1937.6 338.2 L1941.7 338.8 L1945.8 339.2 L1949.9 339.6 L1953.9 340 L1958 340.4 L1962.1 340.7 L1966.2 340.9 L1970.3 341.1 L1974.4 341.2 L1978.4 341.4 L1982.5 341.7 L1986.6 342 L1990.7 342.2 L1994.8 342.4 L1998.9 342.6 L2002.9 342.9 L2007 343.3 L2011.1 343.6 L2015.2 343.8 L2019.3 343.9 L2023.4 344 L2027.4 344.2 L2031.5 344.6 L2035.6 345.1 L2039.7 345.4 L2043.8 345.5 L2047.9 345.7 L2051.9 346.1 L2056 346.9 L2060.1 347.8 L2064.2 348.7 L2068.3 349.9 L2072.4 351.4 L2076.4 352.9 L2080.5 354.3 L2084.6 355.7 L2088.7 357.1 L2092.8 358.4 L2096.9 359.7 L2100.9 360.8 L2105 361.9 L2109.1 362.7 L2113.2 363.3 L2117.3 363.7 L2121.4 364.1 L2125.4 364.4 L2129.5 364.7 L2133.6 364.8 L2137.7 365 L2141.8 365.1 L2145.9 365.1 L2149.9 365.2 L2154 365.3 L2158.1 365.3 L2162.2 365.4 L2166.3 365.5 L2170.3 365.6 L2174.4 365.6 L2178.5 365.7 L2182.6 365.8 L2186.7 365.8 L2190.8 365.9 L2194.8 366 L2198.9 366 L2203 366.1 L2207.1 366.2 L2211.2 366.3 L2215.3 366.4 L2219.3 366.6 L2223.4 366.8 L2227.5 367.1 L2231.6 367.4 L2235.7 367.6 L2239.8 367.9 L2243.8 368.1 L2247.9 368.2 L2252 368.3 L2256.1 368.4 L2260.2 368.5 L2264.3 368.6 L2268.3 368.6 L2272.4 368.6 L2276.5 368.4 L2280.6 368.2 L2284.7 367.8 L2288.8 367.5 L2292.8 367.2 L2296.9 367.1 L2301 367 L2305.1 367 L2309.2 366.9 L2313.3 366.7 L2317.3 366.7 L2321.4 366.8 L2325.5 366.9 L2329.6 367.1 L2333.7 367.4 L2337.8 367.6 L2341.8 367.9 L2345.9 368.2 L2350 368.4"/>
<path stroke="#008000" d="M308.5 1781.5 L312.6 1779.7 L316.7 1777.7 L320.7 1775.6 L324.8 1773.2 L328.9 1770.6 L333 1767.8 L337.1 1764.6 L341.2 1761.1 L345.2 1757.1 L349.3 1752.5 L353.4 1747.1 L357.5 1741 L361.6 1734.1 L365.7 1726.6 L369.7 1718.7 L373.8 1710.5 L377.9 1702.2 L382 1693.9 L386.1 1685.3 L390.2 1676.5 L394.2 1667.5 L398.3 1658.1 L402.4 1648.4 L406.5 1638.2 L410.6 1627.4 L414.7 1616.2 L418.7 1604.4 L422.8 1592.1 L426.9 1579.3 L431 1566.1 L435.1 1552.5 L439.2 1538.4 L443.2 1524 L447.3 1509.2 L451.4 1494 L455.5 1478.6 L459.6 1462.9 L463.7 1446.8 L467.7 1430.4 L471.8 1413.6 L475.9 1396.5 L480 1379 L484.1 1361.3 L488.2 1343.4 L492.2 1325.2 L496.3 1306.9 L500.4 1288.5 L504.5 1270 L508.6 1251.5 L512.6 1232.9 L516.7 1214.3 L520.8 1195.9 L524.9 1177.5 L529 1159.2 L533.1 1141.1 L537.1 1123.2 L541.2 1105.5 L545.3 1087.9 L549.4 1070.2 L553.5 1052.7 L557.6 1035.5 L561.6 1018.5 L565.7 1002 L569.8 986 L573.9 970.5 L578 955.7 L582.1 941.6 L586.1 928.2 L590.2 915.3 L594.3 902.8 L598.4 890.7 L602.5 878.7 L606.6 866.9 L610.6 855.2 L614.7 843.3 L618.8 831.4 L622.9 819.1 L627 806.5 L631.1 793.5 L635.1 780.2 L639.2 766.8 L643.3 753.4 L647.4 740.5 L651.5 728.3 L655.6 717.1 L659.6 707.1 L663.7 698.1 L667.8 690.1 L671.9 683 L676 676.6 L680.1 671 L684.1 665.9 L688.2 661.3 L692.3 657.3 L696.4 653.6 L700.5 650.3 L704.6 647.3 L708.6 644.6 L712.7 642.1 L716.8 639.9 L720.9 637.9 L725 636.1 L729 634.4 L733.1 633 L737.2 631.6 L741.3 630.4 L745.4 629.2 L749.5 628.2 L753.5 627.1 L757.6 626.1 L761.7 625.1 L765.8 624.2 L769.9 623.4 L774 622.7 L778 622 L782.1 621.4 L786.2 620.9 L790.3 620.4 L794.4 619.8 L798.5 619.2 L802.5 618.5 L806.6 617.7 L810.7 616.8 L814.8 615.7 L818.9 614.6 L823 613.4 L827 612 L831.1 610.6 L835.2 609.1 L839.3 607.7 L843.4 606.2 L847.5 604.8 L851.5 603.5 L855.6 602.2 L859.7 600.9 L863.8 599.6 L867.9 598.4 L872 597.1 L876 595.9 L880.1 594.7 L884.2 593.4 L888.3 592.2 L892.4 591 L896.5 589.8 L900.5 588.5 L904.6 587.3 L908.7 586 L912.8 584.7 L916.9 583.4 L921 582 L925 580.6 L929.1 579 L933.2 577.4 L937.3 575.8 L941.4 574 L945.4 572.2 L949.5 570.3 L953.6 568.4 L957.7 566.4 L961.8 564.4 L965.9 562.3 L969.9 560.1 L974 557.9 L978.1 555.7 L982.2 553.4 L986.3 551 L990.4 548.6 L994.4 546.2 L998.5 543.7 L1002.6 541.2 L1006.7 538.6 L1010.8 536 L1014.9 533.4 L1018.9 530.7 L1023 528 L1027.1 525.3 L1031.2 522.6 L1035.3 519.8 L1039.4 517 L1043.4 514.2 L1047.5 511.4 L1051.6 508.5 L1055.7 505.7 L1059.8 502.8 L1063.9 499.8 L1067.9 496.9 L1072 494 L1076.1 491 L1080.2 488 L1084.3 485 L1088.4 482 L1092.4 478.9 L1096.5 475.9 L1100.6 472.8 L1104.7 469.8 L1108.8 466.7 L1112.9 463.6 L1116.9 460.5 L1121 457.3 L1125.1 454.2 L1129.2 451.1 L1133.3 448 L1137.3 444.8 L1141.4 441.7 L1145.5 438.6 L1149.6 435.5 L1153.7 432.4 L1157.8 429.3 L1161.8 426.2 L1165.9 423.1 L1170 420.1 L1174.1 417.1 L1178.2 414.1 L1182.3 411.1 L1186.3 408.2 L1190.4 405.3 L1194.5 402.4 L1198.6 399.5 L1202.7 396.7 L1206.8 394 L1210.8 391.2 L1214.9 388.6 L1219 385.9 L1223.1 383.4 L1227.2 380.8 L1231.3 378.4 L1235.3 376 L1239.4 373.7 L1243.5 371.4 L1247.6 369.1 L1251.7 366.9 L1255.8 364.8 L1259.8 362.7 L1263.9 360.7 L1268 358.7 L1272.1 356.8 L1276.2 354.9 L1280.3 353 L1284.3 351.1 L1288.4 349.2 L1292.5 347.2 L1296.6 345.3 L1300.7 343.3 L1304.8 341.2 L1308.8 339 L1312.9 336.8 L1317 334.5 L1321.1 332.1 L1325.2 329.5 L1329.2 326.8 L1333.3 323.9 L1337.4 321 L1341.5 318 L1345.6 315 L1349.7 312 L1353.7 309.3 L1357.8 306.8 L1361.9 304.5 L1366 302.5 L1370.1 300.7 L1374.2 299 L1378.2 297.4 L1382.3 296 L1386.4 294.6 L1390.5 293.3 L1394.6 291.9 L1398.7 290.6 L1402.7 289.4 L1406.8 288.1 L1410.9 286.8 L1415 285.5 L1419.1 284.2 L1423.2 282.9 L1427.2 281.5 L1431.3 280.2 L1435.4 278.8 L1439.5 277.5 L1443.6 276.2 L1447.7 275 L1451.7 273.8 L1455.8 272.6 L1459.9 271.5 L1464 270.6 L1468.1 269.7 L1472.2 268.9 L1476.2 268.3 L1480.3 267.7 L1484.4 267.3 L1488.5 266.9 L1492.6 266.6 L1496.7 266.3 L1500.7 266.1 L1504.8 265.9 L1508.9 265.7 L1513 265.5 L1517.1 265.2 L1521.2 265 L1525.2 264.7 L1529.3 264.3 L1533.4 263.9 L1537.5 263.5 L1541.6 263.1 L1545.6 262.6 L1549.7 262.2 L1553.8 261.7 L1557.9 261.2 L1562 260.7 L1566.1 260.2 L1570.1 259.7 L1574.2 259.2 L1578.3 258.7 L1582.4 258.2 L1586.5 257.7 L1590.6 257.2 L1594.6 256.8 L1598.7 256.4 L1602.8 256 L1606.9 255.6 L1611 255.3 L1615.1 255 L1619.1 254.8 L1623.2 254.6 L1627.3 254.4 L1631.4 254.2 L1635.5 254.1 L1639.6 254.1 L1643.6 254 L1647.7 254 L1651.8 254.1 L1655.9 254.1 L1660 254.2 L1664.1 254.4 L1668.1 254.6 L1672.2 254.8 L1676.3 255.1 L1680.4 255.5 L1684.5 255.9 L1688.6 256.5 L1692.6 257 L1696.7 257.3 L1700.8 257.6 L1704.9 257.7 L1709 257.9 L1713.1 258.1 L1717.1 258.3 L1721.2 258.6 L1725.3 259 L1729.4 259.3 L1733.5 259.5 L1737.5 259.7 L1741.6 259.9 L1745.7 260.4 L1749.8 261 L1753.9 261.7 L1758 262.4 L1762 263 L1766.1 263.6 L1770.2 264.1 L1774.3 264.7 L1778.4 265.2 L1782.5 265.7 L1786.5 266.3 L1790.6 266.9 L1794.7 267.6 L1798.8 268.3 L1802.9 269.1 L1807 270 L1811 271 L1815.1 272.1 L1819.2 273.2 L1823.3 274.5 L1827.4 275.8 L1831.5 277.1 L1835.5 278.5 L1839.6 279.9 L1843.7 281.3 L1847.8 282.5 L1851.9 283.6 L1856 284.5 L1860 285.3 L1864.1 285.9 L1868.2 286.4 L1872.3 286.8 L1876.4 287.1 L1880.5 287.3 L1884.5 287.6 L1888.6 287.8 L1892.7 288.1 L1896.8 288.5 L1900.9 288.9 L1905 289.5 L1909 290.2 L1913.1 291 L1917.2 291.8 L1921.3 292.7 L1925.4 293.6 L1929.5 294.6 L1933.5 295.5 L1937.6 296.4 L1941.7 297.2 L1945.8 298 L1949.9 298.6 L1953.9 299.2 L1958 299.7 L1962.1 300.1 L1966.2 300.6 L1970.3 301 L1974.4 301.5 L1978.4 302.1 L1982.5 302.8 L1986.6 303.6 L1990.7 304.5 L1994.8 305.7 L1998.9 307.1 L2002.9 308.6 L2007 310.3 L2011.1 311.8 L2015.2 313.2 L2019.3 314.1 L2023.4 314.6 L2027.4 315.4 L2031.5 316.5 L2035.6 317.8 L2039.7 318.9 L2043.8 319.9 L2047.9 320.9 L2051.9 322.1 L2056 323.7 L2060.1 325.3 L2064.2 327 L2068.3 328.8 L2072.4 330.8 L2076.4 333 L2080.5 335.1 L2084.6 337.3 L2088.7 339.2 L2092.8 341 L2096.9 342.6 L2100.9 344 L2105 345.2 L2109.1 346.1 L2113.2 347 L2117.3 347.9 L2121.4 348.7 L2125.4 349.3 L2129.5 349.8 L2133.6 350.3 L2137.7 350.9 L2141.8 351.5 L2145.9 352 L2149.9 352.5 L2154 353 L2158.1 353.4 L2162.2 353.9 L2166.3 354.4 L2170.3 355 L2174.4 355.5 L2178.5 355.9 L2182.6 356.2 L2186.7 356.6 L2190.8 357 L2194.8 357.3 L2198.9 357.7 L2203 358 L2207.1 358.3 L2211.2 358.6 L2215.3 359.1 L2219.3 359.7 L2223.4 360.6 L2227.5 361.7 L2231.6 362.9 L2235.7 364.1 L2239.8 365.4 L2243.8 366.8 L2247.9 368 L2252 369.1 L2256.1 370 L2260.2 370.8 L2264.3 371.5 L2268.3 372.3 L2272.4 373 L2276.5 373.7 L2280.6 374.1 L2284.7 374.3 L2288.8 374.6 L2292.8 375.1 L2296.9 375.6 L2301 376.3 L2305.1 376.9 L2309.2 377.5 L2313.3 377.8 L2317.3 377.9 L2321.4 378 L2325.5 378.1 L2329.6 378.3 L2333.7 378.5 L2337.8 378.7 L2341.8 379 L2345.9 379.3 L2350 379.6"/>
<path stroke="#900000" d="M308.5 1781.5 L312.6 1779.3 L316.7 1776.9 L320.7 1774.4 L324.8 1771.7 L328.9 1768.8 L333 1765.7 L337.1 1762.4 L341.2 1758.6 L345.2 1754.3 L349.3 1749.2 L353.4 1743.1 L357.5 1736 L361.6 1728.2 L365.7 1719.8 L369.7 1711.2 L373.8 1702.6 L377.9 1693.9 L382 1685.2 L386.1 1676.2 L390.2 1667 L394.2 1657.5 L398.3 1647.5 L402.4 1637 L406.5 1625.9 L410.6 1614.1 L414.7 1601.7 L418.7 1588.8 L422.8 1575.3 L426.9 1561.4 L431 1547.1 L435.1 1532.4 L439.2 1517.4 L443.2 1502.1 L447.3 1486.6 L451.4 1470.9 L455.5 1455.1 L459.6 1438.8 L463.7 1422.1 L467.7 1405.1 L471.8 1387.7 L475.9 1370 L480 1352.1 L484.1 1334 L488.2 1315.8 L492.2 1297.4 L496.3 1279 L500.4 1260.7 L504.5 1242.3 L508.6 1224.1 L512.6 1206 L516.7 1188.1 L520.8 1170.4 L524.9 1153 L529 1135.9 L533.1 1119.3 L537.1 1102.7 L541.2 1086.1 L545.3 1069.5 L549.4 1053.1 L553.5 1036.7 L557.6 1020.6 L561.6 1004.7 L565.7 989.1 L569.8 973.9 L573.9 959.1 L578 944.8 L582.1 931 L586.1 917.6 L590.2 904.6 L594.3 892 L598.4 879.8 L602.5 867.9 L606.6 856.2 L610.6 844.7 L614.7 833.5 L618.8 822.4 L622.9 811.5 L627 800.6 L631.1 790 L635.1 779.7 L639.2 769.6 L643.3 759.9 L647.4 750.6 L651.5 741.7 L655.6 733.3 L659.6 725.3 L663.7 717.9 L667.8 711 L671.9 704.6 L676 698.6 L680.1 693 L684.1 687.8 L688.2 683 L692.3 678.5 L696.4 674.3 L700.5 670.4 L704.6 666.8 L708.6 663.4 L712.7 660.2 L716.8 657.4 L720.9 654.7 L725 652.4 L729 650.2 L733.1 648.3 L737.2 646.5 L741.3 644.8 L745.4 643.3 L749.5 641.9 L753.5 640.6 L757.6 639.4 L761.7 638.3 L765.8 637.2 L769.9 636.3 L774 635.3 L778 634.4 L782.1 633.4 L786.2 632.4 L790.3 631.3 L794.4 630.3 L798.5 629.2 L802.5 628.1 L806.6 626.9 L810.7 625.8 L814.8 624.6 L818.9 623.3 L823 621.9 L827 620.4 L831.1 618.8 L835.2 617.1 L839.3 615.4 L843.4 613.6 L847.5 611.9 L851.5 610.1 L855.6 608.3 L859.7 606.6 L863.8 604.8 L867.9 603 L872 601.2 L876 599.4 L880.1 597.6 L884.2 595.8 L888.3 593.9 L892.4 592.1 L896.5 590.3 L900.5 588.4 L904.6 586.5 L908.7 584.6 L912.8 582.6 L916.9 580.6 L921 578.4 L925 576.3 L929.1 574 L933.2 571.7 L937.3 569.3 L941.4 566.8 L945.4 564.3 L949.5 561.7 L953.6 559.1 L957.7 556.4 L961.8 553.6 L965.9 550.8 L969.9 548 L974 545.1 L978.1 542.1 L982.2 539.1 L986.3 536.1 L990.4 533.1 L994.4 529.9 L998.5 526.8 L1002.6 523.6 L1006.7 520.4 L1010.8 517.2 L1014.9 514 L1018.9 510.7 L1023 507.4 L1027.1 504 L1031.2 500.6 L1035.3 497.2 L1039.4 493.8 L1043.4 490.3 L1047.5 486.8 L1051.6 483.3 L1055.7 479.8 L1059.8 476.2 L1063.9 472.6 L1067.9 468.9 L1072 465.3 L1076.1 461.6 L1080.2 457.9 L1084.3 454.1 L1088.4 450.4 L1092.4 446.6 L1096.5 442.8 L1100.6 439.1 L1104.7 435.3 L1108.8 431.5 L1112.9 427.8 L1116.9 424 L1121 420.3 L1125.1 416.6 L1129.2 413 L1133.3 409.3 L1137.3 405.8 L1141.4 402.2 L1145.5 398.7 L1149.6 395.3 L1153.7 391.9 L1157.8 388.5 L1161.8 385.2 L1165.9 381.9 L1170 378.6 L1174.1 375.4 L1178.2 372.2 L1182.3 369.1 L1186.3 366 L1190.4 362.9 L1194.5 359.8 L1198.6 356.8 L1202.7 353.8 L1206.8 350.9 L1210.8 347.9 L1214.9 345.1 L1219 342.2 L1223.1 339.4 L1227.2 336.6 L1231.3 333.9 L1235.3 331.2 L1239.4 328.5 L1243.5 325.7 L1247.6 323 L1251.7 320.1 L1255.8 317.3 L1259.8 314.4 L1263.9 311.6 L1268 308.8 L1272.1 306 L1276.2 303.4 L1280.3 300.9 L1284.3 298.5 L1288.4 296.2 L1292.5 294 L1296.6 291.9 L1300.7 289.9 L1304.8 287.9 L1308.8 286 L1312.9 284.2 L1317 282.5 L1321.1 280.9 L1325.2 279.3 L1329.2 277.8 L1333.3 276.3 L1337.4 274.9 L1341.5 273.6 L1345.6 272.3 L1349.7 271 L1353.7 269.8 L1357.8 268.7 L1361.9 267.5 L1366 266.3 L1370.1 265.1 L1374.2 264 L1378.2 262.8 L1382.3 261.7 L1386.4 260.6 L1390.5 259.6 L1394.6 258.6 L1398.7 257.6 L1402.7 256.6 L1406.8 255.7 L1410.9 254.8 L1415 253.9 L1419.1 253.1 L1423.2 252.2 L1427.2 251.4 L1431.3 250.5 L1435.4 249.7 L1439.5 248.8 L1443.6 248 L1447.7 247.1 L1451.7 246.2 L1455.8 245.4 L1459.9 244.5 L1464 243.7 L1468.1 242.9 L1472.2 242.1 L1476.2 241.4 L1480.3 240.8 L1484.4 240.2 L1488.5 239.7 L1492.6 239.3 L1496.7 238.9 L1500.7 238.6 L1504.8 238.3 L1508.9 238 L1513 237.7 L1517.1 237.5 L1521.2 237.3 L1525.2 237 L1529.3 236.8 L1533.4 236.5 L1537.5 236.3 L1541.6 236 L1545.6 235.8 L1549.7 235.5 L1553.8 235.2 L1557.9 234.9 L1562 234.6 L1566.1 234.3 L1570.1 233.9 L1574.2 233.6 L1578.3 233.2 L1582.4 232.9 L1586.5 232.6 L1590.6 232.4 L1594.6 232.2 L1598.7 232 L1602.8 231.9 L1606.9 231.9 L1611 231.9 L1615.1 231.9 L1619.1 232 L1623.2 232.1 L1627.3 232.3 L1631.4 232.5 L1635.5 232.7 L1639.6 233 L1643.6 233.3 L1647.7 233.6 L1651.8 234 L1655.9 234.4 L1660 234.8 L1664.1 235.2 L1668.1 235.7 L1672.2 236.2 L1676.3 236.7 L1680.4 237.3 L1684.5 237.8 L1688.6 238.3 L1692.6 238.8 L1696.7 239.1 L1700.8 239.3 L1704.9 239.5 L1709 239.7 L1713.1 239.9 L1717.1 240.2 L1721.2 240.6 L1725.3 240.9 L1729.4 241.2 L1733.5 241.4 L1737.5 241.6 L1741.6 242 L1745.7 242.5 L1749.8 243.1 L1753.9 243.8 L1758 244.5 L1762 245.1 L1766.1 245.6 L1770.2 246.1 L1774.3 246.5 L1778.4 247 L1782.5 247.5 L1786.5 248 L1790.6 248.5 L1794.7 249.1 L1798.8 249.9 L1802.9 250.7 L1807 251.7 L1811 252.9 L1815.1 254.3 L1819.2 255.8 L1823.3 257.6 L1827.4 259.5 L1831.5 261.4 L1835.5 263.3 L1839.6 265.2 L1843.7 267 L1847.8 268.7 L1851.9 270.3 L1856 271.6 L1860 272.8 L1864.1 273.8 L1868.2 274.6 L1872.3 275.1 L1876.4 275.5 L1880.5 275.8 L1884.5 275.9 L1888.6 276.1 L1892.7 276.2 L1896.8 276.4 L1900.9 276.8 L1905 277.3 L1909 277.9 L1913.1 278.5 L1917.2 279.3 L1921.3 280.2 L1925.4 281.1 L1929.5 282 L1933.5 283 L1937.6 284 L1941.7 284.9 L1945.8 285.8 L1949.9 286.6 L1953.9 287.3 L1958 288 L1962.1 288.7 L1966.2 289.4 L1970.3 290.1 L1974.4 290.8 L1978.4 291.6 L1982.5 292.5 L1986.6 293.4 L1990.7 294.4 L1994.8 295.4 L1998.9 296.4 L2002.9 297.4 L2007 298.5 L2011.1 299.4 L2015.2 300.4 L2019.3 301.3 L2023.4 302.1 L2027.4 302.8 L2031.5 303.5 L2035.6 304.2 L2039.7 305.1 L2043.8 306.3 L2047.9 307.7 L2051.9 309.6 L2056 311.8 L2060.1 313.6 L2064.2 314.7 L2068.3 315.9 L2072.4 317.7 L2076.4 319.9 L2080.5 322.1 L2084.6 324.3 L2088.7 326.7 L2092.8 329.1 L2096.9 331.4 L2100.9 333.4 L2105 335.1 L2109.1 336.6 L2113.2 338.1 L2117.3 339.6 L2121.4 341 L2125.4 342 L2129.5 342.7 L2133.6 343.6 L2137.7 344.5 L2141.8 345.3 L2145.9 346.1 L2149.9 346.8 L2154 347.3 L2158.1 347.6 L2162.2 348 L2166.3 348.5 L2170.3 349 L2174.4 349.5 L2178.5 349.6 L2182.6 349.7 L2186.7 349.8 L2190.8 350 L2194.8 350.2 L2198.9 350.5 L2203 350.7 L2207.1 350.9 L2211.2 351.3 L2215.3 351.7 L2219.3 352.4 L2223.4 353.3 L2227.5 354.4 L2231.6 355.7 L2235.7 357.3 L2239.8 359.1 L2243.8 361.1 L2247.9 363.2 L2252 365.4 L2256.1 367.5 L2260.2 369.6 L2264.3 371.4 L2268.3 373.2 L2272.4 374.8 L2276.5 376.2 L2280.6 377.3 L2284.7 378.3 L2288.8 379.2 L2292.8 380.1 L2296.9 381 L2301 381.8 L2305.1 382.7 L2309.2 383.6 L2313.3 384.5 L2317.3 385.4 L2321.4 386.2 L2325.5 386.9 L2329.6 387.6 L2333.7 388.1 L2337.8 388.6 L2341.8 389.1 L2345.9 389.5 L2350 390"/>
<path stroke="#9900ff" d="M308.5 1781.6 L312.6 1779.1 L316.7 1776.6 L320.7 1773.9 L324.8 1771 L328.9 1768 L333 1764.7 L337.1 1761.2 L341.2 1757.3 L345.2 1752.8 L349.3 1747.5 L353.4 1741.4 L357.5 1734.4 L361.6 1726.7 L365.7 1718.6 L369.7 1710.2 L373.8 1701.8 L377.9 1693.2 L382 1684.4 L386.1 1675.3 L390.2 1665.8 L394.2 1655.8 L398.3 1645 L402.4 1633.5 L406.5 1621.2 L410.6 1607.9 L414.7 1593.9 L418.7 1579.3 L422.8 1564.1 L426.9 1548.4 L431 1532.3 L435.1 1516 L439.2 1499.5 L443.2 1482.9 L447.3 1466.4 L451.4 1450 L455.5 1432.8 L459.6 1415 L463.7 1396.5 L467.7 1377.5 L471.8 1358.1 L475.9 1338.3 L480 1318.3 L484.1 1298.1 L488.2 1277.7 L492.2 1257.4 L496.3 1237.2 L500.4 1217.1 L504.5 1197.3 L508.6 1177.8 L512.6 1158.7 L516.7 1140.2 L520.8 1122.2 L524.9 1104.8 L529 1087.5 L533.1 1070.4 L537.1 1053.5 L541.2 1036.8 L545.3 1020.4 L549.4 1004.2 L553.5 988.4 L557.6 972.8 L561.6 957.5 L565.7 942.6 L569.8 928.1 L573.9 913.9 L578 900.2 L582.1 886.8 L586.1 874 L590.2 861.6 L594.3 849.8 L598.4 838.4 L602.5 827.7 L606.6 817.5 L610.6 807.9 L614.7 798.9 L618.8 790.5 L622.9 782.6 L627 775.2 L631.1 768.3 L635.1 761.7 L639.2 755.5 L643.3 749.6 L647.4 744.1 L651.5 738.8 L655.6 733.8 L659.6 729.1 L663.7 724.6 L667.8 720.3 L671.9 716.2 L676 712.3 L680.1 708.5 L684.1 705.1 L688.2 701.8 L692.3 698.9 L696.4 696.3 L700.5 693.9 L704.6 691.8 L708.6 689.9 L712.7 688.2 L716.8 686.6 L720.9 685.1 L725 683.8 L729 682.5 L733.1 681.2 L737.2 680 L741.3 678.8 L745.4 677.7 L749.5 676.6 L753.5 675.6 L757.6 674.6 L761.7 673.7 L765.8 672.8 L769.9 672 L774 671.3 L778 670.3 L782.1 669.2 L786.2 667.9 L790.3 666.5 L794.4 665.2 L798.5 664 L802.5 662.8 L806.6 661.9 L810.7 661.2 L814.8 660.5 L818.9 659.9 L823 659.2 L827 658.4 L831.1 657.5 L835.2 656.3 L839.3 654.8 L843.4 653.2 L847.5 651.4 L851.5 649.4 L855.6 647.3 L859.7 645.1 L863.8 642.7 L867.9 640.3 L872 637.9 L876 635.3 L880.1 632.7 L884.2 630.1 L888.3 627.4 L892.4 624.7 L896.5 621.9 L900.5 619.1 L904.6 616.3 L908.7 613.4 L912.8 610.5 L916.9 607.6 L921 604.6 L925 601.5 L929.1 598.5 L933.2 595.4 L937.3 592.2 L941.4 589.1 L945.4 585.9 L949.5 582.7 L953.6 579.5 L957.7 576.3 L961.8 573 L965.9 569.8 L969.9 566.5 L974 563.3 L978.1 560 L982.2 556.8 L986.3 553.5 L990.4 550.3 L994.4 547 L998.5 543.7 L1002.6 540.4 L1006.7 537.2 L1010.8 533.9 L1014.9 530.6 L1018.9 527.4 L1023 524.1 L1027.1 520.8 L1031.2 517.6 L1035.3 514.3 L1039.4 511.1 L1043.4 507.8 L1047.5 504.6 L1051.6 501.4 L1055.7 498.1 L1059.8 494.9 L1063.9 491.7 L1067.9 488.5 L1072 485.3 L1076.1 482.1 L1080.2 478.9 L1084.3 475.7 L1088.4 472.5 L1092.4 469.3 L1096.5 466.1 L1100.6 462.9 L1104.7 459.7 L1108.8 456.5 L1112.9 453.4 L1116.9 450.2 L1121 447.1 L1125.1 443.9 L1129.2 440.8 L1133.3 437.7 L1137.3 434.6 L1141.4 431.5 L1145.5 428.5 L1149.6 425.5 L1153.7 422.5 L1157.8 419.5 L1161.8 416.6 L1165.9 413.7 L1170 410.8 L1174.1 407.9 L1178.2 405.1 L1182.3 402.4 L1186.3 399.6 L1190.4 396.9 L1194.5 394.2 L1198.6 391.6 L1202.7 389 L1206.8 386.4 L1210.8 383.8 L1214.9 381.3 L1219 378.8 L1223.1 376.3 L1227.2 373.9 L1231.3 371.5 L1235.3 369.1 L1239.4 366.7 L1243.5 364.4 L1247.6 362.1 L1251.7 359.7 L1255.8 357.5 L1259.8 355.2 L1263.9 353.1 L1268 350.9 L1272.1 348.8 L1276.2 346.7 L1280.3 344.7 L1284.3 342.7 L1288.4 340.8 L1292.5 338.9 L1296.6 337 L1300.7 335.1 L1304.8 333.3 L1308.8 331.5 L1312.9 329.7 L1317 327.9 L1321.1 326.1 L1325.2 324.4 L1329.2 322.6 L1333.3 320.9 L1337.4 319.1 L1341.5 317.3 L1345.6 315.6 L1349.7 313.8 L1353.7 312 L1357.8 310.2 L1361.9 308.3 L1366 306.4 L1370.1 304.5 L1374.2 302.7 L1378.2 300.9 L1382.3 299.2 L1386.4 297.7 L1390.5 296.3 L1394.6 295 L1398.7 293.9 L1402.7 292.9 L1406.8 291.9 L1410.9 291 L1415 290.2 L1419.1 289.4 L1423.2 288.6 L1427.2 287.9 L1431.3 287.1 L1435.4 286.4 L1439.5 285.8 L1443.6 285.2 L1447.7 284.6 L1451.7 284.1 L1455.8 283.6 L1459.9 283.2 L1464 282.9 L1468.1 282.7 L1472.2 282.5 L1476.2 282.4 L1480.3 282.4 L1484.4 282.4 L1488.5 282.5 L1492.6 282.7 L1496.7 282.9 L1500.7 283.1 L1504.8 283.3 L1508.9 283.5 L1513 283.8 L1517.1 284 L1521.2 284.3 L1525.2 284.5 L1529.3 284.7 L1533.4 284.8 L1537.5 284.9 L1541.6 285 L1545.6 285 L1549.7 285 L1553.8 285 L1557.9 284.9 L1562 284.9 L1566.1 284.8 L1570.1 284.7 L1574.2 284.6 L1578.3 284.5 L1582.4 284.4 L1586.5 284.4 L1590.6 284.4 L1594.6 284.4 L1598.7 284.5 L1602.8 284.7 L1606.9 284.9 L1611 285.1 L1615.1 285.5 L1619.1 285.9 L1623.2 286.3 L1627.3 286.8 L1631.4 287.4 L1635.5 288 L1639.6 288.6 L1643.6 289.2 L1647.7 289.8 L1651.8 290.4 L1655.9 291 L1660 291.6 L1664.1 292.2 L1668.1 292.8 L1672.2 293.3 L1676.3 293.9 L1680.4 294.4 L1684.5 294.9 L1688.6 295.3 L1692.6 295.8 L1696.7 296.2 L1700.8 296.5 L1704.9 296.9 L1709 297.2 L1713.1 297.6 L1717.1 298 L1721.2 298.4 L1725.3 298.9 L1729.4 299.4 L1733.5 300.1 L1737.5 300.7 L1741.6 301.4 L1745.7 302.2 L1749.8 303 L1753.9 303.8 L1758 304.6 L1762 305.4 L1766.1 306.3 L1770.2 307.1 L1774.3 308 L1778.4 308.9 L1782.5 309.8 L1786.5 310.6 L1790.6 311.6 L1794.7 312.5 L1798.8 313.4 L1802.9 314.4 L1807 315.6 L1811 316.9 L1815.1 318.4 L1819.2 320.1 L1823.3 322 L1827.4 324 L1831.5 325.9 L1835.5 327.7 L1839.6 329.3 L1843.7 330.8 L1847.8 331.9 L1851.9 332.8 L1856 333.5 L1860 333.9 L1864.1 334.2 L1868.2 334.4 L1872.3 334.5 L1876.4 334.4 L1880.5 334.1 L1884.5 333.9 L1888.6 333.7 L1892.7 333.6 L1896.8 333.7 L1900.9 334.1 L1905 334.7 L1909 335.5 L1913.1 336.7 L1917.2 337.9 L1921.3 339.1 L1925.4 340.2 L1929.5 341.1 L1933.5 341.8 L1937.6 342.6 L1941.7 343.3 L1945.8 344.1 L1949.9 344.7 L1953.9 345.2 L1958 345.8 L1962.1 346.3 L1966.2 346.8 L1970.3 347.4 L1974.4 348 L1978.4 348.7 L1982.5 349.4 L1986.6 350.1 L1990.7 350.8 L1994.8 351.6 L1998.9 352.4 L2002.9 353.1 L2007 353.9 L2011.1 354.6 L2015.2 355.3 L2019.3 355.9 L2023.4 356.5 L2027.4 357.1 L2031.5 357.7 L2035.6 358.3 L2039.7 358.9 L2043.8 359.5 L2047.9 360.1 L2051.9 361 L2056 362 L2060.1 363.2 L2064.2 364.6 L2068.3 366.1 L2072.4 367.9 L2076.4 369.8 L2080.5 371.8 L2084.6 373.8 L2088.7 376.1 L2092.8 378.2 L2096.9 380.3 L2100.9 382.1 L2105 383.6 L2109.1 384.9 L2113.2 385.9 L2117.3 386.9 L2121.4 387.7 L2125.4 388.4 L2129.5 389.1 L2133.6 389.7 L2137.7 390.3 L2141.8 390.9 L2145.9 391.4 L2149.9 391.8 L2154 392.3 L2158.1 392.7 L2162.2 393 L2166.3 393.3 L2170.3 393.6 L2174.4 393.8 L2178.5 394 L2182.6 394.1 L2186.7 394.1 L2190.8 394.1 L2194.8 393.9 L2198.9 393.8 L2203 393.6 L2207.1 393.5 L2211.2 393.4 L2215.3 393.5 L2219.3 393.7 L2223.4 394.2 L2227.5 395 L2231.6 396 L2235.7 397.2 L2239.8 398.6 L2243.8 400.1 L2247.9 401.7 L2252 403.2 L2256.1 404.8 L2260.2 406.2 L2264.3 407.4 L2268.3 408.6 L2272.4 409.5 L2276.5 410.3 L2280.6 410.9 L2284.7 411.5 L2288.8 411.9 L2292.8 412.2 L2296.9 412.5 L2301 412.8 L2305.1 413.1 L2309.2 413.3 L2313.3 413.7 L2317.3 414 L2321.4 414.4 L2325.5 414.8 L2329.6 415.2 L2333.7 415.6 L2337.8 416 L2341.8 416.4 L2345.9 416.8 L2350 417.2"/>
<path stroke="#900080" d="M308.5 1781.6 L312.6 1778.9 L316.7 1776.1 L320.7 1773 L324.8 1769.5 L328.9 1765.5 L333 1760.9 L337.1 1755.8 L341.2 1750.2 L345.2 1743.9 L349.3 1737.1 L353.4 1729.8 L357.5 1721.9 L361.6 1713.6 L365.7 1704.9 L369.7 1695.7 L373.8 1686.1 L377.9 1675.9 L382 1665.1 L386.1 1653.7 L390.2 1641.6 L394.2 1628.7 L398.3 1615.2 L402.4 1601.1 L406.5 1586.4 L410.6 1571.2 L414.7 1555.5 L418.7 1539.4 L422.8 1522.8 L426.9 1506 L431 1488.8 L435.1 1471.4 L439.2 1453.7 L443.2 1435.3 L447.3 1416.4 L451.4 1396.9 L455.5 1377 L459.6 1356.7 L463.7 1336.2 L467.7 1315.6 L471.8 1294.8 L475.9 1274.1 L480 1253.5 L484.1 1233.1 L488.2 1213 L492.2 1193.3 L496.3 1174.1 L500.4 1155.4 L504.5 1137.4 L508.6 1120.1 L512.6 1103.2 L516.7 1086.5 L520.8 1069.8 L524.9 1053.3 L529 1036.9 L533.1 1020.7 L537.1 1004.7 L541.2 988.9 L545.3 973.3 L549.4 957.9 L553.5 942.8 L557.6 928 L561.6 913.5 L565.7 899.3 L569.8 885.5 L573.9 872.2 L578 859.3 L582.1 847 L586.1 835.2 L590.2 823.9 L594.3 813.3 L598.4 803.3 L602.5 794 L606.6 785.5 L610.6 777.5 L614.7 769.8 L618.8 762.6 L622.9 755.8 L627 749.5 L631.1 743.6 L635.1 738.1 L639.2 732.9 L643.3 728.1 L647.4 723.6 L651.5 719.4 L655.6 715.4 L659.6 711.6 L663.7 708.1 L667.8 704.7 L671.9 701.6 L676 698.7 L680.1 695.9 L684.1 693.3 L688.2 690.8 L692.3 688.6 L696.4 686.4 L700.5 684.4 L704.6 682.6 L708.6 680.9 L712.7 679.3 L716.8 677.7 L720.9 676.3 L725 674.8 L729 673.4 L733.1 671.9 L737.2 670.5 L741.3 669.1 L745.4 667.7 L749.5 666.3 L753.5 664.9 L757.6 663.6 L761.7 662.2 L765.8 660.9 L769.9 659.6 L774 658.3 L778 657 L782.1 655.6 L786.2 654.1 L790.3 652.6 L794.4 651 L798.5 649.6 L802.5 648.3 L806.6 647 L810.7 645.8 L814.8 644.7 L818.9 643.5 L823 642.3 L827 640.9 L831.1 639.4 L835.2 637.6 L839.3 635.5 L843.4 633.2 L847.5 630.7 L851.5 628.1 L855.6 625.3 L859.7 622.3 L863.8 619.3 L867.9 616.2 L872 613.1 L876 609.9 L880.1 606.6 L884.2 603.4 L888.3 600.1 L892.4 596.8 L896.5 593.5 L900.5 590.1 L904.6 586.7 L908.7 583.4 L912.8 580 L916.9 576.5 L921 573.1 L925 569.6 L929.1 566.2 L933.2 562.7 L937.3 559.2 L941.4 555.7 L945.4 552.1 L949.5 548.6 L953.6 545 L957.7 541.5 L961.8 537.9 L965.9 534.3 L969.9 530.6 L974 527 L978.1 523.4 L982.2 519.7 L986.3 516 L990.4 512.4 L994.4 508.7 L998.5 505 L1002.6 501.4 L1006.7 497.7 L1010.8 494.1 L1014.9 490.5 L1018.9 487 L1023 483.5 L1027.1 480 L1031.2 476.5 L1035.3 473.2 L1039.4 469.9 L1043.4 466.6 L1047.5 463.4 L1051.6 460.3 L1055.7 457.2 L1059.8 454.2 L1063.9 451.3 L1067.9 448.3 L1072 445.4 L1076.1 442.5 L1080.2 439.7 L1084.3 436.8 L1088.4 433.9 L1092.4 431.1 L1096.5 428.2 L1100.6 425.3 L1104.7 422.4 L1108.8 419.4 L1112.9 416.5 L1116.9 413.6 L1121 410.7 L1125.1 407.7 L1129.2 404.8 L1133.3 401.8 L1137.3 398.9 L1141.4 395.9 L1145.5 393 L1149.6 390.1 L1153.7 387.2 L1157.8 384.3 L1161.8 381.4 L1165.9 378.6 L1170 375.8 L1174.1 373 L1178.2 370.2 L1182.3 367.5 L1186.3 364.9 L1190.4 362.2 L1194.5 359.6 L1198.6 357.1 L1202.7 354.5 L1206.8 352.1 L1210.8 349.6 L1214.9 347.2 L1219 344.9 L1223.1 342.6 L1227.2 340.4 L1231.3 338.3 L1235.3 336.2 L1239.4 334.2 L1243.5 332.3 L1247.6 330.4 L1251.7 328.5 L1255.8 326.7 L1259.8 324.9 L1263.9 323 L1268 321.1 L1272.1 319.1 L1276.2 317.2 L1280.3 315.2 L1284.3 313.3 L1288.4 311.3 L1292.5 309.4 L1296.6 307.5 L1300.7 305.7 L1304.8 303.9 L1308.8 302.2 L1312.9 300.5 L1317 298.9 L1321.1 297.3 L1325.2 295.8 L1329.2 294.4 L1333.3 293 L1337.4 291.7 L1341.5 290.4 L1345.6 289.2 L1349.7 288.1 L1353.7 287.1 L1357.8 286.2 L1361.9 285.3 L1366 284.5 L1370.1 283.8 L1374.2 283.2 L1378.2 282.6 L1382.3 282.1 L1386.4 281.6 L1390.5 281.1 L1394.6 280.6 L1398.7 280.2 L1402.7 279.7 L1406.8 279.2 L1410.9 278.7 L1415 278.2 L1419.1 277.7 L1423.2 277.2 L1427.2 276.8 L1431.3 276.3 L1435.4 275.9 L1439.5 275.4 L1443.6 275 L1447.7 274.7 L1451.7 274.4 L1455.8 274.1 L1459.9 273.8 L1464 273.7 L1468.1 273.5 L1472.2 273.5 L1476.2 273.5 L1480.3 273.5 L1484.4 273.7 L1488.5 273.9 L1492.6 274.2 L1496.7 274.5 L1500.7 274.9 L1504.8 275.4 L1508.9 275.8 L1513 276.3 L1517.1 276.8 L1521.2 277.2 L1525.2 277.7 L1529.3 278.1 L1533.4 278.5 L1537.5 278.8 L1541.6 279 L1545.6 279.3 L1549.7 279.4 L1553.8 279.6 L1557.9 279.7 L1562 279.8 L1566.1 279.8 L1570.1 279.9 L1574.2 280 L1578.3 280 L1582.4 280 L1586.5 280.1 L1590.6 280.1 L1594.6 280.2 L1598.7 280.3 L1602.8 280.4 L1606.9 280.6 L1611 280.8 L1615.1 281.1 L1619.1 281.4 L1623.2 281.7 L1627.3 282.2 L1631.4 282.7 L1635.5 283.2 L1639.6 283.8 L1643.6 284.5 L1647.7 285.3 L1651.8 286.1 L1655.9 287 L1660 288 L1664.1 289 L1668.1 290 L1672.2 291.1 L1676.3 292.3 L1680.4 293.4 L1684.5 294.4 L1688.6 295.3 L1692.6 296.2 L1696.7 296.8 L1700.8 297.4 L1704.9 297.9 L1709 298.3 L1713.1 298.7 L1717.1 299.1 L1721.2 299.4 L1725.3 299.8 L1729.4 300.1 L1733.5 300.6 L1737.5 301.1 L1741.6 301.8 L1745.7 302.6 L1749.8 303.6 L1753.9 304.7 L1758 305.8 L1762 306.8 L1766.1 307.8 L1770.2 308.7 L1774.3 309.6 L1778.4 310.4 L1782.5 311.2 L1786.5 312.1 L1790.6 312.9 L1794.7 313.8 L1798.8 314.7 L1802.9 315.7 L1807 316.9 L1811 318.2 L1815.1 319.7 L1819.2 321.5 L1823.3 323.5 L1827.4 325.5 L1831.5 327.5 L1835.5 329.5 L1839.6 331.3 L1843.7 333 L1847.8 334.5 L1851.9 335.8 L1856 336.9 L1860 337.8 L1864.1 338.5 L1868.2 338.7 L1872.3 338.8 L1876.4 338.7 L1880.5 338.5 L1884.5 338.3 L1888.6 338.1 L1892.7 337.9 L1896.8 337.8 L1900.9 337.8 L1905 337.9 L1909 338.1 L1913.1 338.5 L1917.2 338.9 L1921.3 339.4 L1925.4 340 L1929.5 340.6 L1933.5 341.3 L1937.6 341.9 L1941.7 342.6 L1945.8 343.2 L1949.9 343.8 L1953.9 344.3 L1958 344.8 L1962.1 345.3 L1966.2 345.8 L1970.3 346.5 L1974.4 347.1 L1978.4 347.8 L1982.5 348.4 L1986.6 349.2 L1990.7 350 L1994.8 350.9 L1998.9 351.7 L2002.9 352.5 L2007 353.2 L2011.1 353.8 L2015.2 354.5 L2019.3 355.2 L2023.4 355.8 L2027.4 356.4 L2031.5 356.8 L2035.6 357.2 L2039.7 357.7 L2043.8 358.3 L2047.9 359.1 L2051.9 359.9 L2056 360.8 L2060.1 361.9 L2064.2 363.2 L2068.3 364.6 L2072.4 366.3 L2076.4 368.1 L2080.5 369.9 L2084.6 371.9 L2088.7 373.9 L2092.8 375.7 L2096.9 377.3 L2100.9 378.8 L2105 380.1 L2109.1 381.2 L2113.2 382.2 L2117.3 383 L2121.4 383.7 L2125.4 384.3 L2129.5 385 L2133.6 385.6 L2137.7 386.1 L2141.8 386.5 L2145.9 386.7 L2149.9 387.1 L2154 387.5 L2158.1 387.8 L2162.2 388.1 L2166.3 388.2 L2170.3 388.3 L2174.4 388.4 L2178.5 388.6 L2182.6 388.8 L2186.7 388.7 L2190.8 388.6 L2194.8 388.3 L2198.9 388.1 L2203 387.9 L2207.1 387.9 L2211.2 387.9 L2215.3 388.1 L2219.3 388.3 L2223.4 388.6 L2227.5 389 L2231.6 389.4 L2235.7 390 L2239.8 390.7 L2243.8 391.6 L2247.9 392.5 L2252 393.5 L2256.1 394.6 L2260.2 395.6 L2264.3 396.6 L2268.3 397.5 L2272.4 398.4 L2276.5 399.3 L2280.6 400 L2284.7 400.7 L2288.8 401.3 L2292.8 401.8 L2296.9 402.3 L2301 402.7 L2305.1 403.1 L2309.2 403.5 L2313.3 403.9 L2317.3 404.2 L2321.4 404.6 L2325.5 404.9 L2329.6 405.1 L2333.7 405.3 L2337.8 405.5 L2341.8 405.7 L2345.9 405.8 L2350 406"/>
</g>
<g>
<text class="mt" text-anchor="end" transform="translate(234.5 1809) scale(1.01 1.04)">0</text><text class="mt" text-anchor="end" transform="translate(234.5 1636.9) scale(1.01 1.04)">10</text><text class="mt" text-anchor="end" transform="translate(234.5 1464.9) scale(1.01 1.04)">20</text><text class="mt" text-anchor="end" transform="translate(234.5 1292.8) scale(1.01 1.04)">30</text><text class="mt" text-anchor="end" transform="translate(234.5 1120.7) scale(1.01 1.04)">40</text><text class="mt" text-anchor="end" transform="translate(234.5 948.6) scale(1.01 1.04)">50</text><text class="mt" text-anchor="end" transform="translate(234.5 776.6) scale(1.01 1.04)">60</text><text class="mt" text-anchor="end" transform="translate(234.5 604.5) scale(1.01 1.04)">70</text><text class="mt" text-anchor="end" transform="translate(234.5 432.4) scale(1.01 1.04)">80</text><text class="mt" text-anchor="end" transform="translate(234.5 260.4) scale(1.01 1.04)">90</text><text class="mt" text-anchor="end" transform="translate(234.5 88.3) scale(1.01 1.04)">100</text>
</g>
<g>
<text class="mt" text-anchor="middle" transform="translate(308.5 1878) scale(1.0 1.04)">300</text><text class="mt" text-anchor="middle" transform="translate(716.8 1878) scale(1.0 1.04)">400</text><text class="mt" text-anchor="middle" transform="translate(1125.1 1878) scale(1.0 1.04)">500</text><text class="mt" text-anchor="middle" transform="translate(1533.4 1878) scale(1.0 1.04)">600</text><text class="mt" text-anchor="middle" transform="translate(1941.7 1878) scale(1.0 1.04)">700</text><text class="mt" text-anchor="middle" transform="translate(2350 1878) scale(1.0 1.04)">800</text>
</g>
<text class="mtitle" text-anchor="middle" transform="translate(1330 2020.5) scale(1.0 1.035)">Wavelength (nm)</text>
<text class="mtitle" text-anchor="middle" transform="translate(107.5 909) rotate(-90) scale(1.0 1.035)">Transmittance (%)</text>
<g class="ax" stroke-width="4.4">
<path d="M735.7 1655v-6.8M854.2 1655v-14.6M972.7 1655v-6.8M1091.1 1655v-14.6M1209.6 1655v-6.8M1328.1 1655v-14.6M1446.6 1655v-6.8M1565 1655v-14.6M1683.5 1655v-6.8M1802 1655v-14.6M735.7 1655h14.3M735.7 1608.7h7.1M735.7 1562.3h14.3M735.7 1516h7.1M735.7 1469.6h14.3M735.7 1423.2h7.1M735.7 1376.9h14.3M735.7 1330.5h7.1M735.7 1284.2h14.3M735.7 1237.8h7.1M735.7 1191.5h14.3M735.7 1145.2h7.1M735.7 1098.8h14.3M735.7 1052.5h7.1M735.7 1006.1h14.3M735.7 959.8h7.1M735.7 913.4h14.3M735.7 867.1h7.1M735.7 820.7h14.3"/>
<rect x="735.7" y="820.5" width="1066.3" height="834.5" stroke-linejoin="miter" stroke-width="3.6"/>
</g>
<g class="c" stroke-width="11.5" clip-path="url(#ic)">
<path stroke="#000000" d="M712 3133.1 L714.4 3089.5 L716.7 3046.3 L719.1 3003.4 L721.5 2961 L723.9 2919.4 L726.2 2878.7 L728.6 2839 L731 2800.4 L733.3 2762.7 L735.7 2725.8 L738.1 2689.5 L740.4 2653.8 L742.8 2618.7 L745.2 2584 L747.5 2549.8 L749.9 2515.9 L752.3 2482.2 L754.7 2448.8 L757 2415.5 L759.4 2382.3 L761.8 2349.6 L764.1 2317.5 L766.5 2286.2 L768.9 2256 L771.2 2226.9 L773.6 2199.3 L776 2173.4 L778.4 2149.3 L780.7 2127.3 L783.1 2107.8 L785.5 2091.2 L787.8 2077.7 L790.2 2064.8 L792.6 2051.8 L794.9 2038.8 L797.3 2025.9 L799.7 2013.1 L802 2000.4 L804.4 1987.8 L806.8 1975.4 L809.2 1963.2 L811.5 1951.1 L813.9 1939.3 L816.3 1927.7 L818.6 1916.4 L821 1905.5 L823.4 1894.9 L825.7 1884.7 L828.1 1874.9 L830.5 1865.7 L832.8 1857 L835.2 1848.8 L837.6 1841.2 L840 1834 L842.3 1827.3 L844.7 1821.1 L847.1 1815.2 L849.4 1809.8 L851.8 1804.7 L854.2 1800 L856.5 1795.6 L858.9 1791.6 L861.3 1787.9 L863.7 1784.3 L866 1780.9 L868.4 1777.5 L870.8 1774 L873.1 1770.5 L875.5 1766.9 L877.9 1763.2 L880.2 1759.5 L882.6 1755.9 L885 1752.4 L887.3 1749 L889.7 1745.9 L892.1 1743.5 L894.5 1742.8 L896.8 1743.1 L899.2 1743.7 L901.6 1744.1 L903.9 1743.5 L906.3 1741.6 L908.7 1737.6 L911 1732.7 L913.4 1727.5 L915.8 1722.8 L918.2 1717.4 L920.5 1711.8 L922.9 1706.3 L925.3 1700.9 L927.6 1695.6 L930 1690.6 L932.4 1685.8 L934.7 1681 L937.1 1676.2 L939.5 1671.3 L941.8 1666.2 L944.2 1661.1 L946.6 1655.8 L949 1650.5 L951.3 1645 L953.7 1639.5 L956.1 1634 L958.4 1628.4 L960.8 1622.7 L963.2 1616.9 L965.5 1611.1 L967.9 1605.3 L970.3 1599.4 L972.7 1593.4 L975 1587.3 L977.4 1581.2 L979.8 1575 L982.1 1568.7 L984.5 1562.4 L986.9 1556 L989.2 1549.5 L991.6 1543 L994 1536.4 L996.3 1529.7 L998.7 1522.9 L1001.1 1516.1 L1003.5 1509.2 L1005.8 1502.3 L1008.2 1495.3 L1010.6 1488.2 L1012.9 1481.2 L1015.3 1474.1 L1017.7 1467 L1020 1459.9 L1022.4 1452.7 L1024.8 1445.6 L1027.1 1438.5 L1029.5 1431.5 L1031.9 1424.4 L1034.3 1417.4 L1036.6 1410.4 L1039 1403.5 L1041.4 1396.7 L1043.7 1389.9 L1046.1 1383.1 L1048.5 1376.4 L1050.8 1369.6 L1053.2 1362.9 L1055.6 1356.2 L1058 1349.5 L1060.3 1342.8 L1062.7 1336.1 L1065.1 1329.4 L1067.4 1322.7 L1069.8 1316 L1072.2 1309.2 L1074.5 1302.5 L1076.9 1295.8 L1079.3 1289.1 L1081.6 1282.4 L1084 1275.7 L1086.4 1269 L1088.8 1262.3 L1091.1 1255.6 L1093.5 1248.9 L1095.9 1242.1 L1098.2 1235.5 L1100.6 1228.8 L1103 1222.2 L1105.3 1215.6 L1107.7 1209.2 L1110.1 1202.8 L1112.5 1196.5 L1114.8 1190.3 L1117.2 1184.2 L1119.6 1178.1 L1121.9 1172.2 L1124.3 1166.3 L1126.7 1160.5 L1129 1154.7 L1131.4 1149 L1133.8 1143.3 L1136.1 1137.7 L1138.5 1132.2 L1140.9 1126.7 L1143.3 1121.3 L1145.6 1115.9 L1148 1110.6 L1150.4 1105.4 L1152.7 1100.2 L1155.1 1095 L1157.5 1089.8 L1159.8 1084.6 L1162.2 1079.5 L1164.6 1074.5 L1166.9 1069.6 L1169.3 1064.8 L1171.7 1060.2 L1174.1 1055.9 L1176.4 1051.7 L1178.8 1047.7 L1181.2 1043.9 L1183.5 1040.3 L1185.9 1036.9 L1188.3 1033.6 L1190.6 1030.4 L1193 1027.4 L1195.4 1024.6 L1197.8 1021.8 L1200.1 1019.1 L1202.5 1016.5 L1204.9 1014 L1207.2 1011.6 L1209.6 1009.3 L1212 1006.9 L1214.3 1004.7 L1216.7 1002.4 L1219.1 1000.2 L1221.4 998 L1223.8 995.8 L1226.2 993.5 L1228.6 991.3 L1230.9 989 L1233.3 986.7 L1235.7 984.4 L1238 982.1 L1240.4 979.8 L1242.8 977.6 L1245.1 975.4 L1247.5 973.4 L1249.9 971.4 L1252.3 969.6 L1254.6 967.9 L1257 966.3 L1259.4 964.8 L1261.7 963.4 L1264.1 962.1 L1266.5 960.9 L1268.8 959.8 L1271.2 958.7 L1273.6 957.6 L1275.9 956.5 L1278.3 955.5 L1280.7 954.5 L1283.1 953.5 L1285.4 952.5 L1287.8 951.6 L1290.2 950.7 L1292.5 949.9 L1294.9 949.1 L1297.3 948.3 L1299.6 947.6 L1302 947 L1304.4 946.4 L1306.7 945.9 L1309.1 945.4 L1311.5 945.1 L1313.9 944.8 L1316.2 944.7 L1318.6 944.6 L1321 944.7 L1323.3 944.9 L1325.7 945.2 L1328.1 945.6 L1330.4 946.1 L1332.8 946.6 L1335.2 947.3 L1337.6 948 L1339.9 948.8 L1342.3 949.6 L1344.7 950.5 L1347 951.5 L1349.4 952.4 L1351.8 953.2 L1354.1 954 L1356.5 954.6 L1358.9 955.1 L1361.2 955.6 L1363.6 955.9 L1366 956.1 L1368.4 956.2 L1370.7 956.2 L1373.1 956.2 L1375.5 956.2 L1377.8 956.1 L1380.2 956.1 L1382.6 956.1 L1384.9 956.2 L1387.3 956.4 L1389.7 956.8 L1392.1 957.2 L1394.4 957.9 L1396.8 958.8 L1399.2 959.8 L1401.5 961.1 L1403.9 962.6 L1406.3 964.2 L1408.6 966 L1411 967.8 L1413.4 969.7 L1415.7 971.6 L1418.1 973.5 L1420.5 975.4 L1422.9 977.3 L1425.2 979.2 L1427.6 981.1 L1430 983 L1432.3 984.9 L1434.7 986.8 L1437.1 988.8 L1439.4 990.7 L1441.8 992.7 L1444.2 994.6 L1446.6 996.6 L1448.9 998.6 L1451.3 1000.6 L1453.7 1002.6 L1456 1004.7 L1458.4 1006.7 L1460.8 1008.7 L1463.1 1010.8 L1465.5 1012.8 L1467.9 1014.9 L1470.2 1017 L1472.6 1019 L1475 1021.1 L1477.4 1023.1 L1479.7 1025.2 L1482.1 1027.3 L1484.5 1029.3 L1486.8 1031.4 L1489.2 1033.4 L1491.6 1035.5 L1493.9 1037.5 L1496.3 1039.5 L1498.7 1041.6 L1501 1043.6 L1503.4 1045.6 L1505.8 1047.6 L1508.2 1049.6 L1510.5 1051.6 L1512.9 1053.6 L1515.3 1055.5 L1517.6 1057.5 L1520 1059.4 L1522.4 1061.3 L1524.7 1063.2 L1527.1 1065.1 L1529.5 1066.9 L1531.9 1068.8 L1534.2 1070.6 L1536.6 1072.4 L1539 1074.2 L1541.3 1076 L1543.7 1077.7 L1546.1 1079.4 L1548.4 1081.1 L1550.8 1082.8 L1553.2 1084.4 L1555.5 1086 L1557.9 1087.5 L1560.3 1089 L1562.7 1090.4 L1565 1091.7 L1567.4 1092.9 L1569.8 1094.1 L1572.1 1095.3 L1574.5 1096.4 L1576.9 1097.6 L1579.2 1098.8 L1581.6 1100 L1584 1101.3 L1586.4 1102.7 L1588.7 1104.2 L1591.1 1105.9 L1593.5 1107.7 L1595.8 1109.7 L1598.2 1111.9 L1600.6 1114 L1602.9 1116.2 L1605.3 1118.3 L1607.7 1120.4 L1610 1122.3 L1612.4 1124.1 L1614.8 1125.8 L1617.2 1127.6 L1619.5 1129.3 L1621.9 1131.2 L1624.3 1133.1 L1626.6 1135.1 L1629 1137.2 L1631.4 1139.4 L1633.7 1141.6 L1636.1 1143.9 L1638.5 1146.3 L1640.8 1148.7 L1643.2 1151.2 L1645.6 1154 L1648 1156.8 L1650.3 1159.7 L1652.7 1162.5 L1655.1 1165.4 L1657.4 1168.2 L1659.8 1171 L1662.2 1173.8 L1664.5 1176.6 L1666.9 1179.3 L1669.3 1182 L1671.7 1184.5 L1674 1186.9 L1676.4 1189.1 L1678.8 1191.2 L1681.1 1193.2 L1683.5 1195.1 L1685.9 1196.8 L1688.2 1198.5 L1690.6 1200.1 L1693 1201.6 L1695.3 1203.2 L1697.7 1204.7 L1700.1 1206.2 L1702.5 1207.7 L1704.8 1209.2 L1707.2 1210.8 L1709.6 1212.3 L1711.9 1213.9 L1714.3 1215.3 L1716.7 1216.7 L1719 1218.1 L1721.4 1219.4 L1723.8 1220.8 L1726.2 1222.3 L1728.5 1223.9 L1730.9 1225.6 L1733.3 1227.5 L1735.6 1229.6 L1738 1231.6 L1740.4 1233.7 L1742.7 1235.8 L1745.1 1237.7 L1747.5 1239.5 L1749.8 1241 L1752.2 1242.3 L1754.6 1243.3 L1757 1244.1 L1759.3 1244.6 L1761.7 1244.9 L1764.1 1245 L1766.4 1244.9 L1768.8 1244.8 L1771.2 1244.7 L1773.5 1244.7 L1775.9 1244.9 L1778.3 1245.4 L1780.6 1246.3 L1783 1247.5 L1785.4 1249 L1787.8 1250.7 L1790.1 1252.5 L1792.5 1254.4 L1794.9 1256.5 L1797.2 1258.8 L1799.6 1261.1 L1802 1263.4"/>
<path stroke="#ff0000" d="M712 3154.4 L714.4 3111.1 L716.7 3068 L719.1 3025.1 L721.5 2982.6 L723.9 2940.5 L726.2 2899.1 L728.6 2858.4 L731 2818.6 L733.3 2779.6 L735.7 2741.2 L738.1 2703.3 L740.4 2665.9 L742.8 2628.9 L745.2 2592.3 L747.5 2556 L749.9 2520.2 L752.3 2484.6 L754.7 2449.4 L757 2414.4 L759.4 2379.7 L761.8 2345.5 L764.1 2311.9 L766.5 2279 L768.9 2246.9 L771.2 2215.8 L773.6 2185.9 L776 2157.1 L778.4 2129.7 L780.7 2103.7 L783.1 2079.2 L785.5 2056 L787.8 2034.1 L790.2 2013.7 L792.6 1994.7 L794.9 1976.9 L797.3 1960.4 L799.7 1944.9 L802 1930.5 L804.4 1916.9 L806.8 1904.2 L809.2 1892.1 L811.5 1880.7 L813.9 1869.9 L816.3 1859.7 L818.6 1850 L821 1840.8 L823.4 1832.1 L825.7 1823.9 L828.1 1816.2 L830.5 1808.9 L832.8 1802 L835.2 1795.6 L837.6 1789.6 L840 1783.9 L842.3 1778.6 L844.7 1773.6 L847.1 1769 L849.4 1764.7 L851.8 1760.6 L854.2 1756.8 L856.5 1753.4 L858.9 1750.2 L861.3 1747.3 L863.7 1744.7 L866 1742.3 L868.4 1740.1 L870.8 1738 L873.1 1736.1 L875.5 1734.2 L877.9 1732.3 L880.2 1730.4 L882.6 1728.4 L885 1726.4 L887.3 1724.4 L889.7 1722.7 L892.1 1721.4 L894.5 1720.3 L896.8 1718.9 L899.2 1717.3 L901.6 1715.5 L903.9 1713.5 L906.3 1711.5 L908.7 1709.6 L911 1707.9 L913.4 1706.1 L915.8 1703.8 L918.2 1701.1 L920.5 1698.2 L922.9 1695.3 L925.3 1692.5 L927.6 1689.8 L930 1687 L932.4 1684.1 L934.7 1681 L937.1 1677.8 L939.5 1674.4 L941.8 1670.9 L944.2 1667.3 L946.6 1663.6 L949 1659.7 L951.3 1655.7 L953.7 1651.6 L956.1 1647.4 L958.4 1643.1 L960.8 1638.7 L963.2 1634.2 L965.5 1629.5 L967.9 1624.8 L970.3 1620 L972.7 1615 L975 1610 L977.4 1604.8 L979.8 1599.5 L982.1 1594.2 L984.5 1588.7 L986.9 1583.1 L989.2 1577.4 L991.6 1571.6 L994 1565.7 L996.3 1559.7 L998.7 1553.5 L1001.1 1547.3 L1003.5 1541 L1005.8 1534.5 L1008.2 1528 L1010.6 1521.3 L1012.9 1514.6 L1015.3 1507.7 L1017.7 1500.8 L1020 1493.8 L1022.4 1486.8 L1024.8 1479.7 L1027.1 1472.5 L1029.5 1465.3 L1031.9 1458.1 L1034.3 1450.9 L1036.6 1443.7 L1039 1436.5 L1041.4 1429.4 L1043.7 1422.2 L1046.1 1415.1 L1048.5 1408 L1050.8 1401 L1053.2 1394.1 L1055.6 1387.2 L1058 1380.4 L1060.3 1373.7 L1062.7 1367 L1065.1 1360.4 L1067.4 1353.9 L1069.8 1347.5 L1072.2 1341.1 L1074.5 1334.8 L1076.9 1328.6 L1079.3 1322.4 L1081.6 1316.3 L1084 1310.3 L1086.4 1304.4 L1088.8 1298.5 L1091.1 1292.8 L1093.5 1287.1 L1095.9 1281.5 L1098.2 1275.9 L1100.6 1270.4 L1103 1265.1 L1105.3 1259.7 L1107.7 1254.5 L1110.1 1249.3 L1112.5 1244.1 L1114.8 1239 L1117.2 1233.9 L1119.6 1228.9 L1121.9 1223.9 L1124.3 1218.9 L1126.7 1214 L1129 1209 L1131.4 1204.1 L1133.8 1199.2 L1136.1 1194.2 L1138.5 1189.3 L1140.9 1184.4 L1143.3 1179.5 L1145.6 1174.6 L1148 1169.7 L1150.4 1164.8 L1152.7 1160 L1155.1 1155.1 L1157.5 1150.3 L1159.8 1145.5 L1162.2 1140.7 L1164.6 1136 L1166.9 1131.3 L1169.3 1126.6 L1171.7 1122.1 L1174.1 1117.6 L1176.4 1113.1 L1178.8 1108.7 L1181.2 1104.4 L1183.5 1100.2 L1185.9 1096 L1188.3 1091.9 L1190.6 1087.9 L1193 1083.9 L1195.4 1079.9 L1197.8 1076 L1200.1 1072.1 L1202.5 1068.2 L1204.9 1064.3 L1207.2 1060.4 L1209.6 1056.5 L1212 1052.7 L1214.3 1048.9 L1216.7 1045.1 L1219.1 1041.4 L1221.4 1037.8 L1223.8 1034.2 L1226.2 1030.7 L1228.6 1027.3 L1230.9 1024 L1233.3 1020.9 L1235.7 1017.8 L1238 1014.9 L1240.4 1012.1 L1242.8 1009.5 L1245.1 1007 L1247.5 1004.7 L1249.9 1002.5 L1252.3 1000.3 L1254.6 998.3 L1257 996.3 L1259.4 994.3 L1261.7 992.4 L1264.1 990.6 L1266.5 988.7 L1268.8 986.9 L1271.2 985.1 L1273.6 983.4 L1275.9 981.7 L1278.3 980 L1280.7 978.4 L1283.1 976.8 L1285.4 975.3 L1287.8 973.9 L1290.2 972.5 L1292.5 971.2 L1294.9 970 L1297.3 968.9 L1299.6 967.9 L1302 966.9 L1304.4 966.1 L1306.7 965.3 L1309.1 964.7 L1311.5 964.1 L1313.9 963.7 L1316.2 963.3 L1318.6 962.9 L1321 962.6 L1323.3 962.3 L1325.7 962.1 L1328.1 961.8 L1330.4 961.6 L1332.8 961.4 L1335.2 961.2 L1337.6 961 L1339.9 960.8 L1342.3 960.6 L1344.7 960.4 L1347 960.1 L1349.4 959.9 L1351.8 959.6 L1354.1 959.4 L1356.5 959.2 L1358.9 959 L1361.2 958.9 L1363.6 958.9 L1366 958.9 L1368.4 959 L1370.7 959.1 L1373.1 959.3 L1375.5 959.6 L1377.8 959.8 L1380.2 960.2 L1382.6 960.5 L1384.9 961 L1387.3 961.6 L1389.7 962.4 L1392.1 963.5 L1394.4 964.8 L1396.8 966.4 L1399.2 968.3 L1401.5 970.5 L1403.9 972.9 L1406.3 975.4 L1408.6 977.8 L1411 980.2 L1413.4 982.3 L1415.7 984.1 L1418.1 985.7 L1420.5 987.2 L1422.9 988.6 L1425.2 990.1 L1427.6 991.7 L1430 993.5 L1432.3 995.4 L1434.7 997.2 L1437.1 998.6 L1439.4 999.6 L1441.8 999.8 L1444.2 999.6 L1446.6 999.6 L1448.9 1000.1 L1451.3 1001.5 L1453.7 1003.7 L1456 1006.4 L1458.4 1009.1 L1460.8 1011.4 L1463.1 1013.3 L1465.5 1014.9 L1467.9 1016.3 L1470.2 1017.6 L1472.6 1018.8 L1475 1020 L1477.4 1021.4 L1479.7 1022.9 L1482.1 1024.6 L1484.5 1026.6 L1486.8 1028.7 L1489.2 1031 L1491.6 1033.4 L1493.9 1036.1 L1496.3 1038.8 L1498.7 1041.6 L1501 1044.4 L1503.4 1047.2 L1505.8 1049.8 L1508.2 1052.2 L1510.5 1054.5 L1512.9 1056.4 L1515.3 1058.1 L1517.6 1059.5 L1520 1060.6 L1522.4 1061.5 L1524.7 1062.2 L1527.1 1062.7 L1529.5 1063.3 L1531.9 1064 L1534.2 1064.9 L1536.6 1066.2 L1539 1067.9 L1541.3 1070.3 L1543.7 1073.1 L1546.1 1075.9 L1548.4 1078.4 L1550.8 1080.1 L1553.2 1081.4 L1555.5 1082.9 L1557.9 1084.8 L1560.3 1086.8 L1562.7 1088.7 L1565 1090.1 L1567.4 1091.2 L1569.8 1092.4 L1572.1 1093.7 L1574.5 1095.1 L1576.9 1096.3 L1579.2 1097.4 L1581.6 1098.3 L1584 1099.4 L1586.4 1100.9 L1588.7 1102.7 L1591.1 1104.5 L1593.5 1106.2 L1595.8 1107.8 L1598.2 1109.6 L1600.6 1111.6 L1602.9 1113.8 L1605.3 1115.8 L1607.7 1117.5 L1610 1118.9 L1612.4 1120.3 L1614.8 1122 L1617.2 1123.8 L1619.5 1125.7 L1621.9 1127.6 L1624.3 1129.2 L1626.6 1130.9 L1629 1132.9 L1631.4 1135.5 L1633.7 1138.2 L1636.1 1140.9 L1638.5 1143.3 L1640.8 1146.1 L1643.2 1149.2 L1645.6 1152.2 L1648 1155.3 L1650.3 1158.6 L1652.7 1161.8 L1655.1 1165 L1657.4 1168 L1659.8 1170.7 L1662.2 1173.2 L1664.5 1175.8 L1666.9 1178.3 L1669.3 1180.7 L1671.7 1183.1 L1674 1185 L1676.4 1186.5 L1678.8 1187.9 L1681.1 1189.3 L1683.5 1191 L1685.9 1193.1 L1688.2 1195.1 L1690.6 1196.6 L1693 1197.8 L1695.3 1198.9 L1697.7 1200.2 L1700.1 1201.7 L1702.5 1203.5 L1704.8 1205.1 L1707.2 1206.6 L1709.6 1208 L1711.9 1209.3 L1714.3 1210.5 L1716.7 1211.6 L1719 1212.7 L1721.4 1213.9 L1723.8 1215.3 L1726.2 1216.9 L1728.5 1218.9 L1730.9 1220.9 L1733.3 1222.7 L1735.6 1224.5 L1738 1226.4 L1740.4 1228.3 L1742.7 1229.9 L1745.1 1231.2 L1747.5 1232.6 L1749.8 1234.2 L1752.2 1235.9 L1754.6 1237.3 L1757 1238.6 L1759.3 1239.8 L1761.7 1241 L1764.1 1242.3 L1766.4 1243.5 L1768.8 1244.7 L1771.2 1246.1 L1773.5 1247.6 L1775.9 1249.4 L1778.3 1251.7 L1780.6 1254.6 L1783 1257.8 L1785.4 1261.3 L1787.8 1265 L1790.1 1268.8 L1792.5 1272.6 L1794.9 1276.6 L1797.2 1280.7 L1799.6 1284.8 L1802 1288.9"/>
<path stroke="#0000ff" d="M712 1924.7 L714.4 1884.2 L716.7 1847 L719.1 1813 L721.5 1782.3 L723.9 1754.7 L726.2 1730.1 L728.6 1708.3 L731 1689.1 L733.3 1672.4 L735.7 1658 L738.1 1646 L740.4 1635.8 L742.8 1627.1 L745.2 1619.8 L747.5 1614 L749.9 1609.2 L752.3 1604.9 L754.7 1601.1 L757 1597.9 L759.4 1595.3 L761.8 1593 L764.1 1591.2 L766.5 1589.8 L768.9 1588.8 L771.2 1588.2 L773.6 1587.9 L776 1588 L778.4 1588.3 L780.7 1588.9 L783.1 1589.9 L785.5 1591.1 L787.8 1592.4 L790.2 1593.7 L792.6 1595 L794.9 1596.2 L797.3 1597.4 L799.7 1598.2 L802 1598.8 L804.4 1599 L806.8 1598.8 L809.2 1598.3 L811.5 1597.3 L813.9 1595.9 L816.3 1594.1 L818.6 1591.9 L821 1589.5 L823.4 1586.8 L825.7 1584 L828.1 1581.1 L830.5 1578.1 L832.8 1575 L835.2 1571.7 L837.6 1568.5 L840 1565.3 L842.3 1562.2 L844.7 1559.1 L847.1 1556 L849.4 1552.8 L851.8 1549.6 L854.2 1546.3 L856.5 1543 L858.9 1539.6 L861.3 1536 L863.7 1532.4 L866 1528.7 L868.4 1524.9 L870.8 1521 L873.1 1517.1 L875.5 1513 L877.9 1508.9 L880.2 1504.7 L882.6 1500.5 L885 1496.3 L887.3 1492 L889.7 1487.7 L892.1 1483.3 L894.5 1478.8 L896.8 1474.3 L899.2 1469.8 L901.6 1465.1 L903.9 1460.5 L906.3 1455.8 L908.7 1451 L911 1446.1 L913.4 1441.2 L915.8 1436.3 L918.2 1431.3 L920.5 1426.2 L922.9 1421 L925.3 1415.8 L927.6 1410.5 L930 1405.2 L932.4 1399.8 L934.7 1394.3 L937.1 1388.7 L939.5 1383 L941.8 1377.3 L944.2 1371.4 L946.6 1365.6 L949 1359.6 L951.3 1353.6 L953.7 1347.5 L956.1 1341.4 L958.4 1335.2 L960.8 1328.9 L963.2 1322.6 L965.5 1316.2 L967.9 1309.7 L970.3 1303.1 L972.7 1296.5 L975 1289.8 L977.4 1283 L979.8 1276.1 L982.1 1269.1 L984.5 1262.1 L986.9 1255 L989.2 1247.8 L991.6 1240.5 L994 1233.2 L996.3 1225.9 L998.7 1218.5 L1001.1 1211 L1003.5 1203.5 L1005.8 1195.9 L1008.2 1188.3 L1010.6 1180.6 L1012.9 1172.8 L1015.3 1165.1 L1017.7 1157.3 L1020 1149.5 L1022.4 1141.7 L1024.8 1134.1 L1027.1 1126.6 L1029.5 1119.3 L1031.9 1112.2 L1034.3 1105.3 L1036.6 1098.6 L1039 1092.2 L1041.4 1086 L1043.7 1079.9 L1046.1 1073.7 L1048.5 1067.6 L1050.8 1061.5 L1053.2 1055.5 L1055.6 1049.6 L1058 1043.8 L1060.3 1038.2 L1062.7 1032.9 L1065.1 1027.8 L1067.4 1023 L1069.8 1018.3 L1072.2 1013.8 L1074.5 1009.5 L1076.9 1005.2 L1079.3 1001 L1081.6 996.9 L1084 992.7 L1086.4 988.6 L1088.8 984.5 L1091.1 980.4 L1093.5 976.4 L1095.9 972.3 L1098.2 968.3 L1100.6 964.4 L1103 960.5 L1105.3 956.6 L1107.7 952.8 L1110.1 949.1 L1112.5 945.4 L1114.8 941.9 L1117.2 938.4 L1119.6 935.1 L1121.9 931.8 L1124.3 928.7 L1126.7 925.8 L1129 922.9 L1131.4 920.3 L1133.8 917.7 L1136.1 915.3 L1138.5 912.9 L1140.9 910.7 L1143.3 908.5 L1145.6 906.4 L1148 904.4 L1150.4 902.4 L1152.7 900.5 L1155.1 898.6 L1157.5 896.7 L1159.8 894.9 L1162.2 893.1 L1164.6 891.4 L1166.9 889.8 L1169.3 888.3 L1171.7 886.8 L1174.1 885.4 L1176.4 884.1 L1178.8 883 L1181.2 881.8 L1183.5 880.8 L1185.9 879.8 L1188.3 878.9 L1190.6 878 L1193 877.2 L1195.4 876.4 L1197.8 875.7 L1200.1 875 L1202.5 874.3 L1204.9 873.6 L1207.2 873 L1209.6 872.4 L1212 871.9 L1214.3 871.5 L1216.7 871.1 L1219.1 870.9 L1221.4 870.8 L1223.8 870.8 L1226.2 870.9 L1228.6 871.3 L1230.9 871.7 L1233.3 872.4 L1235.7 873.2 L1238 874.1 L1240.4 875.2 L1242.8 876.4 L1245.1 877.6 L1247.5 878.9 L1249.9 880.3 L1252.3 881.6 L1254.6 883 L1257 884.4 L1259.4 885.7 L1261.7 887 L1264.1 888.3 L1266.5 889.6 L1268.8 890.9 L1271.2 892.1 L1273.6 893.3 L1275.9 894.4 L1278.3 895.6 L1280.7 896.8 L1283.1 897.9 L1285.4 899 L1287.8 900.2 L1290.2 901.4 L1292.5 902.5 L1294.9 903.7 L1297.3 904.9 L1299.6 906.2 L1302 907.4 L1304.4 908.7 L1306.7 910 L1309.1 911.4 L1311.5 912.8 L1313.9 914.2 L1316.2 915.7 L1318.6 917.3 L1321 919 L1323.3 920.7 L1325.7 922.5 L1328.1 924.3 L1330.4 926.1 L1332.8 927.9 L1335.2 929.7 L1337.6 931.4 L1339.9 933.2 L1342.3 934.8 L1344.7 936.4 L1347 937.9 L1349.4 939.3 L1351.8 940.7 L1354.1 942 L1356.5 943.3 L1358.9 944.5 L1361.2 945.6 L1363.6 946.7 L1366 947.8 L1368.4 949 L1370.7 950.3 L1373.1 951.7 L1375.5 953.2 L1377.8 955 L1380.2 957 L1382.6 959.2 L1384.9 961.5 L1387.3 964 L1389.7 966.6 L1392.1 969.1 L1394.4 971.8 L1396.8 974.4 L1399.2 977.1 L1401.5 979.8 L1403.9 982.6 L1406.3 985.4 L1408.6 988.2 L1411 991 L1413.4 993.9 L1415.7 996.7 L1418.1 999.6 L1420.5 1002.2 L1422.9 1004.6 L1425.2 1006.8 L1427.6 1008.9 L1430 1011.1 L1432.3 1013.4 L1434.7 1015.6 L1437.1 1017.6 L1439.4 1019.1 L1441.8 1020.1 L1444.2 1020.8 L1446.6 1021.6 L1448.9 1022.8 L1451.3 1024.6 L1453.7 1027 L1456 1029.7 L1458.4 1032.4 L1460.8 1034.8 L1463.1 1036.9 L1465.5 1038.7 L1467.9 1040.3 L1470.2 1041.9 L1472.6 1043.4 L1475 1044.9 L1477.4 1046.4 L1479.7 1048.1 L1482.1 1050 L1484.5 1051.9 L1486.8 1054 L1489.2 1056.2 L1491.6 1058.4 L1493.9 1060.7 L1496.3 1063.1 L1498.7 1065.5 L1501 1067.9 L1503.4 1070.4 L1505.8 1072.9 L1508.2 1075.4 L1510.5 1077.6 L1512.9 1079.7 L1515.3 1081.3 L1517.6 1082.7 L1520 1083.6 L1522.4 1084.1 L1524.7 1084.6 L1527.1 1085.6 L1529.5 1086.7 L1531.9 1087.8 L1534.2 1088.5 L1536.6 1088.7 L1539 1088.9 L1541.3 1090.2 L1543.7 1092.3 L1546.1 1094.6 L1548.4 1096.6 L1550.8 1097.6 L1553.2 1098.1 L1555.5 1099 L1557.9 1100.7 L1560.3 1102.7 L1562.7 1104.5 L1565 1105.5 L1567.4 1106 L1569.8 1106.9 L1572.1 1108.4 L1574.5 1110 L1576.9 1111.2 L1579.2 1111.6 L1581.6 1111.4 L1584 1111.5 L1586.4 1112.8 L1588.7 1114.6 L1591.1 1116.3 L1593.5 1117.4 L1595.8 1117.7 L1598.2 1118.2 L1600.6 1119.5 L1602.9 1121.2 L1605.3 1122.8 L1607.7 1123.9 L1610 1124.4 L1612.4 1124.9 L1614.8 1125.8 L1617.2 1127 L1619.5 1128.3 L1621.9 1129.2 L1624.3 1129.7 L1626.6 1130 L1629 1130.6 L1631.4 1131.5 L1633.7 1132.7 L1636.1 1133.9 L1638.5 1135.1 L1640.8 1136.8 L1643.2 1139 L1645.6 1141.4 L1648 1143.8 L1650.3 1146.3 L1652.7 1148.7 L1655.1 1151 L1657.4 1153.1 L1659.8 1155.1 L1662.2 1156.9 L1664.5 1158.5 L1666.9 1159.8 L1669.3 1161 L1671.7 1162.1 L1674 1163.1 L1676.4 1164.1 L1678.8 1165 L1681.1 1165.7 L1683.5 1166.5 L1685.9 1167.5 L1688.2 1168.7 L1690.6 1170 L1693 1171 L1695.3 1171.8 L1697.7 1172.3 L1700.1 1172.9 L1702.5 1173.9 L1704.8 1175 L1707.2 1176.1 L1709.6 1176.9 L1711.9 1177.6 L1714.3 1178.1 L1716.7 1178.8 L1719 1179.7 L1721.4 1180.5 L1723.8 1181.3 L1726.2 1181.9 L1728.5 1182.7 L1730.9 1183.5 L1733.3 1184.3 L1735.6 1185.1 L1738 1185.8 L1740.4 1186.4 L1742.7 1186.9 L1745.1 1187.3 L1747.5 1187.6 L1749.8 1187.8 L1752.2 1188 L1754.6 1188.2 L1757 1188.3 L1759.3 1188.3 L1761.7 1188 L1764.1 1187.7 L1766.4 1187.4 L1768.8 1187.5 L1771.2 1187.8 L1773.5 1188.2 L1775.9 1188.9 L1778.3 1189.6 L1780.6 1190.5 L1783 1191.8 L1785.4 1193.4 L1787.8 1195 L1790.1 1196.6 L1792.5 1198.1 L1794.9 1199.4 L1797.2 1200.6 L1799.6 1201.8 L1802 1202.9"/>
<path stroke="#ff00ff" d="M712 2050.2 L714.4 2011.8 L716.7 1975.8 L719.1 1942.4 L721.5 1911.5 L723.9 1883.4 L726.2 1858 L728.6 1835.2 L731 1814.7 L733.3 1796.5 L735.7 1780.3 L738.1 1765.9 L740.4 1753.2 L742.8 1741.9 L745.2 1731.8 L747.5 1722.9 L749.9 1714.9 L752.3 1707.8 L754.7 1701.6 L757 1696 L759.4 1691.1 L761.8 1686.8 L764.1 1683 L766.5 1679.5 L768.9 1676.4 L771.2 1673.7 L773.6 1671.3 L776 1669.3 L778.4 1667.6 L780.7 1666.2 L783.1 1665.1 L785.5 1664.1 L787.8 1663.2 L790.2 1662.4 L792.6 1661.5 L794.9 1660.5 L797.3 1659.4 L799.7 1658.2 L802 1656.8 L804.4 1655 L806.8 1652.6 L809.2 1649.8 L811.5 1646.7 L813.9 1643.3 L816.3 1639.7 L818.6 1635.8 L821 1631.6 L823.4 1627.2 L825.7 1622.5 L828.1 1617.7 L830.5 1613.1 L832.8 1608.8 L835.2 1604.3 L837.6 1599.6 L840 1594.9 L842.3 1590.2 L844.7 1585.5 L847.1 1581 L849.4 1576.6 L851.8 1572.2 L854.2 1567.8 L856.5 1563.3 L858.9 1558.9 L861.3 1554.6 L863.7 1550.3 L866 1546 L868.4 1541.7 L870.8 1537.3 L873.1 1532.8 L875.5 1528.4 L877.9 1523.9 L880.2 1519.4 L882.6 1514.8 L885 1510.2 L887.3 1505.6 L889.7 1500.9 L892.1 1496.2 L894.5 1491.4 L896.8 1486.6 L899.2 1481.7 L901.6 1476.8 L903.9 1471.7 L906.3 1466.5 L908.7 1461.3 L911 1455.9 L913.4 1450.4 L915.8 1444.8 L918.2 1439.1 L920.5 1433.3 L922.9 1427.3 L925.3 1421.3 L927.6 1415.1 L930 1408.8 L932.4 1402.3 L934.7 1395.8 L937.1 1389.2 L939.5 1382.5 L941.8 1375.6 L944.2 1368.7 L946.6 1361.7 L949 1354.6 L951.3 1347.4 L953.7 1340.2 L956.1 1332.8 L958.4 1325.5 L960.8 1318 L963.2 1310.6 L965.5 1303.1 L967.9 1295.5 L970.3 1288 L972.7 1280.5 L975 1272.9 L977.4 1265.4 L979.8 1257.9 L982.1 1250.4 L984.5 1242.9 L986.9 1235.5 L989.2 1228.1 L991.6 1220.8 L994 1213.7 L996.3 1206.7 L998.7 1199.8 L1001.1 1193.1 L1003.5 1186.4 L1005.8 1179.9 L1008.2 1173.5 L1010.6 1167.1 L1012.9 1160.8 L1015.3 1154.5 L1017.7 1148.3 L1020 1142 L1022.4 1135.8 L1024.8 1129.6 L1027.1 1123.3 L1029.5 1117.1 L1031.9 1111 L1034.3 1104.9 L1036.6 1098.9 L1039 1093.2 L1041.4 1087.6 L1043.7 1082.1 L1046.1 1076.8 L1048.5 1071.4 L1050.8 1065.8 L1053.2 1059.8 L1055.6 1053.7 L1058 1047.8 L1060.3 1042.2 L1062.7 1037.2 L1065.1 1032.8 L1067.4 1028.8 L1069.8 1025.2 L1072.2 1022 L1074.5 1018.9 L1076.9 1016.1 L1079.3 1013.4 L1081.6 1010.7 L1084 1008 L1086.4 1005.3 L1088.8 1002.5 L1091.1 999.6 L1093.5 996.6 L1095.9 993.5 L1098.2 990.2 L1100.6 986.8 L1103 983.4 L1105.3 979.9 L1107.7 976.4 L1110.1 973 L1112.5 969.6 L1114.8 966.4 L1117.2 963.2 L1119.6 960.2 L1121.9 957.3 L1124.3 954.6 L1126.7 952.1 L1129 949.8 L1131.4 947.5 L1133.8 945.4 L1136.1 943.4 L1138.5 941.3 L1140.9 939.3 L1143.3 937.4 L1145.6 935.4 L1148 933.6 L1150.4 931.8 L1152.7 930.1 L1155.1 928.6 L1157.5 927.2 L1159.8 925.8 L1162.2 924.6 L1164.6 923.5 L1166.9 922.4 L1169.3 921.4 L1171.7 920.4 L1174.1 919.5 L1176.4 918.6 L1178.8 917.8 L1181.2 917 L1183.5 916.2 L1185.9 915.4 L1188.3 914.6 L1190.6 913.8 L1193 913.1 L1195.4 912.4 L1197.8 911.8 L1200.1 911.2 L1202.5 910.6 L1204.9 910.1 L1207.2 909.6 L1209.6 909.3 L1212 909 L1214.3 908.7 L1216.7 908.6 L1219.1 908.5 L1221.4 908.6 L1223.8 908.8 L1226.2 909.1 L1228.6 909.6 L1230.9 910.2 L1233.3 910.9 L1235.7 911.9 L1238 913 L1240.4 914.3 L1242.8 915.6 L1245.1 917 L1247.5 918.5 L1249.9 919.8 L1252.3 921.1 L1254.6 922.2 L1257 923.3 L1259.4 924.4 L1261.7 925.3 L1264.1 926.3 L1266.5 927.3 L1268.8 928.3 L1271.2 929.3 L1273.6 930.3 L1275.9 931.3 L1278.3 932.4 L1280.7 933.4 L1283.1 934.5 L1285.4 935.5 L1287.8 936.7 L1290.2 937.9 L1292.5 939.3 L1294.9 940.9 L1297.3 942.6 L1299.6 944.6 L1302 946.7 L1304.4 948.9 L1306.7 951.2 L1309.1 953.7 L1311.5 956.2 L1313.9 958.8 L1316.2 961.4 L1318.6 963.9 L1321 966.4 L1323.3 968.7 L1325.7 970.9 L1328.1 973.1 L1330.4 975.1 L1332.8 977 L1335.2 978.9 L1337.6 980.7 L1339.9 982.4 L1342.3 984.1 L1344.7 985.8 L1347 987.3 L1349.4 988.8 L1351.8 990.2 L1354.1 991.4 L1356.5 992.6 L1358.9 993.6 L1361.2 994.5 L1363.6 995.3 L1366 996.1 L1368.4 997.1 L1370.7 998.2 L1373.1 999.5 L1375.5 1001.2 L1377.8 1003.3 L1380.2 1005.9 L1382.6 1008.8 L1384.9 1012.1 L1387.3 1015.6 L1389.7 1019.2 L1392.1 1022.7 L1394.4 1026.1 L1396.8 1029.3 L1399.2 1032.2 L1401.5 1034.7 L1403.9 1037 L1406.3 1039 L1408.6 1040.8 L1411 1042.4 L1413.4 1044 L1415.7 1045.6 L1418.1 1047.1 L1420.5 1048.5 L1422.9 1049.8 L1425.2 1050.9 L1427.6 1051.9 L1430 1053 L1432.3 1054.2 L1434.7 1055.6 L1437.1 1057.3 L1439.4 1059 L1441.8 1060.3 L1444.2 1061.2 L1446.6 1062.1 L1448.9 1063.2 L1451.3 1064.7 L1453.7 1066.8 L1456 1069 L1458.4 1071.3 L1460.8 1073.4 L1463.1 1075.3 L1465.5 1077.1 L1467.9 1078.8 L1470.2 1080.4 L1472.6 1081.9 L1475 1083.5 L1477.4 1085 L1479.7 1086.6 L1482.1 1088.2 L1484.5 1089.9 L1486.8 1091.6 L1489.2 1093.3 L1491.6 1095.1 L1493.9 1097 L1496.3 1098.8 L1498.7 1100.6 L1501 1102.3 L1503.4 1103.9 L1505.8 1105.3 L1508.2 1106.6 L1510.5 1107.6 L1512.9 1108.3 L1515.3 1108.7 L1517.6 1109 L1520 1109.3 L1522.4 1109.8 L1524.7 1110.5 L1527.1 1111.1 L1529.5 1111.7 L1531.9 1112.3 L1534.2 1112.8 L1536.6 1113.2 L1539 1113.7 L1541.3 1114.7 L1543.7 1116.2 L1546.1 1117.9 L1548.4 1119.7 L1550.8 1121.4 L1553.2 1123 L1555.5 1124.7 L1557.9 1126.4 L1560.3 1128.2 L1562.7 1129.7 L1565 1130.8 L1567.4 1131.7 L1569.8 1132.6 L1572.1 1133.5 L1574.5 1134.4 L1576.9 1135.1 L1579.2 1135.5 L1581.6 1135.7 L1584 1136 L1586.4 1136.5 L1588.7 1137.2 L1591.1 1137.8 L1593.5 1138.3 L1595.8 1138.7 L1598.2 1139.1 L1600.6 1139.8 L1602.9 1140.6 L1605.3 1141.3 L1607.7 1141.7 L1610 1141.8 L1612.4 1142 L1614.8 1142.6 L1617.2 1143.5 L1619.5 1144.4 L1621.9 1145 L1624.3 1145.4 L1626.6 1145.8 L1629 1146.7 L1631.4 1148.4 L1633.7 1150.3 L1636.1 1152.3 L1638.5 1154.7 L1640.8 1158 L1643.2 1161.4 L1645.6 1164.4 L1648 1167.3 L1650.3 1170.3 L1652.7 1173.2 L1655.1 1175.9 L1657.4 1178.4 L1659.8 1180.6 L1662.2 1182.4 L1664.5 1183.7 L1666.9 1184.6 L1669.3 1185.3 L1671.7 1186.1 L1674 1186.6 L1676.4 1187 L1678.8 1187.3 L1681.1 1187.5 L1683.5 1187.7 L1685.9 1187.8 L1688.2 1188 L1690.6 1188.1 L1693 1188.2 L1695.3 1188.4 L1697.7 1188.6 L1700.1 1188.7 L1702.5 1188.9 L1704.8 1189 L1707.2 1189.2 L1709.6 1189.3 L1711.9 1189.4 L1714.3 1189.6 L1716.7 1189.7 L1719 1189.9 L1721.4 1190.1 L1723.8 1190.4 L1726.2 1190.7 L1728.5 1191.2 L1730.9 1191.8 L1733.3 1192.4 L1735.6 1193 L1738 1193.6 L1740.4 1194 L1742.7 1194.2 L1745.1 1194.4 L1747.5 1194.6 L1749.8 1194.9 L1752.2 1195.1 L1754.6 1195.1 L1757 1195 L1759.3 1194.7 L1761.7 1194.2 L1764.1 1193.4 L1766.4 1192.6 L1768.8 1192.1 L1771.2 1191.8 L1773.5 1191.8 L1775.9 1191.7 L1778.3 1191.4 L1780.6 1191 L1783 1191 L1785.4 1191.1 L1787.8 1191.5 L1790.1 1192 L1792.5 1192.5 L1794.9 1193 L1797.2 1193.6 L1799.6 1194.2 L1802 1194.7"/>
<path stroke="#008000" d="M712 3447.1 L714.4 3410.1 L716.7 3372.5 L719.1 3334.4 L721.5 3295.7 L723.9 3256.6 L726.2 3217.2 L728.6 3177.5 L731 3137.6 L733.3 3097.6 L735.7 3057.6 L738.1 3017.6 L740.4 2977.8 L742.8 2938.2 L745.2 2898.8 L747.5 2859.8 L749.9 2821.2 L752.3 2783.2 L754.7 2745.1 L757 2707.1 L759.4 2669.4 L761.8 2632.2 L764.1 2595.7 L766.5 2560.1 L768.9 2525.5 L771.2 2492.2 L773.6 2460.3 L776 2430 L778.4 2401 L780.7 2373.2 L783.1 2346.3 L785.5 2320.1 L787.8 2294.4 L790.2 2269 L792.6 2243.7 L794.9 2218.2 L797.3 2192.3 L799.7 2165.9 L802 2138.7 L804.4 2110.8 L806.8 2082.2 L809.2 2053.2 L811.5 2024.4 L813.9 1996.5 L816.3 1970.2 L818.6 1946.2 L821 1924.6 L823.4 1905.2 L825.7 1887.9 L828.1 1872.6 L830.5 1858.9 L832.8 1846.7 L835.2 1835.8 L837.6 1826 L840 1817.2 L842.3 1809.2 L844.7 1802.1 L847.1 1795.6 L849.4 1789.8 L851.8 1784.5 L854.2 1779.7 L856.5 1775.4 L858.9 1771.5 L861.3 1767.9 L863.7 1764.8 L866 1761.9 L868.4 1759.3 L870.8 1756.8 L873.1 1754.4 L875.5 1752.1 L877.9 1749.9 L880.2 1747.9 L882.6 1746 L885 1744.2 L887.3 1742.6 L889.7 1741.2 L892.1 1740 L894.5 1738.9 L896.8 1737.7 L899.2 1736.5 L901.6 1735.2 L903.9 1733.7 L906.3 1731.9 L908.7 1729.9 L911 1727.6 L913.4 1725.2 L915.8 1722.6 L918.2 1719.6 L920.5 1716.5 L922.9 1713.4 L925.3 1710.3 L927.6 1707.2 L930 1704.2 L932.4 1701.3 L934.7 1698.5 L937.1 1695.7 L939.5 1693 L941.8 1690.3 L944.2 1687.6 L946.6 1684.9 L949 1682.3 L951.3 1679.6 L953.7 1677 L956.1 1674.3 L958.4 1671.7 L960.8 1669.1 L963.2 1666.4 L965.5 1663.7 L967.9 1660.9 L970.3 1658 L972.7 1655 L975 1651.9 L977.4 1648.6 L979.8 1645.1 L982.1 1641.5 L984.5 1637.8 L986.9 1633.9 L989.2 1629.9 L991.6 1625.7 L994 1621.4 L996.3 1617 L998.7 1612.5 L1001.1 1607.8 L1003.5 1603.1 L1005.8 1598.2 L1008.2 1593.2 L1010.6 1588.2 L1012.9 1583 L1015.3 1577.8 L1017.7 1572.4 L1020 1567 L1022.4 1561.5 L1024.8 1555.9 L1027.1 1550.2 L1029.5 1544.5 L1031.9 1538.7 L1034.3 1532.9 L1036.6 1526.9 L1039 1521 L1041.4 1515 L1043.7 1508.9 L1046.1 1502.8 L1048.5 1496.7 L1050.8 1490.5 L1053.2 1484.2 L1055.6 1477.9 L1058 1471.6 L1060.3 1465.2 L1062.7 1458.8 L1065.1 1452.4 L1067.4 1445.9 L1069.8 1439.4 L1072.2 1432.9 L1074.5 1426.3 L1076.9 1419.7 L1079.3 1413.1 L1081.6 1406.4 L1084 1399.8 L1086.4 1393.1 L1088.8 1386.4 L1091.1 1379.6 L1093.5 1372.9 L1095.9 1366.1 L1098.2 1359.4 L1100.6 1352.7 L1103 1345.9 L1105.3 1339.2 L1107.7 1332.5 L1110.1 1325.9 L1112.5 1319.3 L1114.8 1312.7 L1117.2 1306.1 L1119.6 1299.6 L1121.9 1293.1 L1124.3 1286.7 L1126.7 1280.4 L1129 1274.1 L1131.4 1267.9 L1133.8 1261.8 L1136.1 1255.7 L1138.5 1249.8 L1140.9 1243.9 L1143.3 1238.1 L1145.6 1232.5 L1148 1226.9 L1150.4 1221.5 L1152.7 1216.2 L1155.1 1211.1 L1157.5 1206 L1159.8 1201.1 L1162.2 1196.3 L1164.6 1191.5 L1166.9 1186.9 L1169.3 1182.4 L1171.7 1178 L1174.1 1173.8 L1176.4 1169.6 L1178.8 1165.5 L1181.2 1161.4 L1183.5 1157.3 L1185.9 1153.2 L1188.3 1149.1 L1190.6 1144.8 L1193 1140.5 L1195.4 1136 L1197.8 1131.4 L1200.1 1126.6 L1202.5 1121.6 L1204.9 1116.4 L1207.2 1110.8 L1209.6 1105 L1212 1098.9 L1214.3 1092.5 L1216.7 1086 L1219.1 1079.5 L1221.4 1073.3 L1223.8 1067.3 L1226.2 1061.9 L1228.6 1057.1 L1230.9 1052.7 L1233.3 1048.7 L1235.7 1045.1 L1238 1041.8 L1240.4 1038.7 L1242.8 1035.7 L1245.1 1032.8 L1247.5 1029.9 L1249.9 1027.1 L1252.3 1024.4 L1254.6 1021.6 L1257 1018.8 L1259.4 1016 L1261.7 1013.2 L1264.1 1010.4 L1266.5 1007.5 L1268.8 1004.6 L1271.2 1001.7 L1273.6 998.8 L1275.9 996.1 L1278.3 993.4 L1280.7 990.8 L1283.1 988.3 L1285.4 986 L1287.8 983.9 L1290.2 982 L1292.5 980.3 L1294.9 978.9 L1297.3 977.8 L1299.6 976.8 L1302 976 L1304.4 975.3 L1306.7 974.7 L1309.1 974.2 L1311.5 973.8 L1313.9 973.3 L1316.2 972.9 L1318.6 972.4 L1321 971.8 L1323.3 971.1 L1325.7 970.4 L1328.1 969.6 L1330.4 968.7 L1332.8 967.8 L1335.2 966.8 L1337.6 965.8 L1339.9 964.8 L1342.3 963.7 L1344.7 962.6 L1347 961.6 L1349.4 960.5 L1351.8 959.4 L1354.1 958.3 L1356.5 957.2 L1358.9 956.1 L1361.2 955.1 L1363.6 954.1 L1366 953.2 L1368.4 952.4 L1370.7 951.6 L1373.1 950.9 L1375.5 950.3 L1377.8 949.8 L1380.2 949.3 L1382.6 949 L1384.9 948.7 L1387.3 948.5 L1389.7 948.3 L1392.1 948.2 L1394.4 948.2 L1396.8 948.3 L1399.2 948.5 L1401.5 948.7 L1403.9 949 L1406.3 949.4 L1408.6 949.9 L1411 950.6 L1413.4 951.4 L1415.7 952.3 L1418.1 953.5 L1420.5 954.5 L1422.9 955.3 L1425.2 955.8 L1427.6 956.2 L1430 956.5 L1432.3 956.9 L1434.7 957.4 L1437.1 958.2 L1439.4 959 L1441.8 959.5 L1444.2 959.9 L1446.6 960.4 L1448.9 961 L1451.3 961.9 L1453.7 963.2 L1456 964.7 L1458.4 966.2 L1460.8 967.6 L1463.1 968.8 L1465.5 970 L1467.9 971.1 L1470.2 972.3 L1472.6 973.4 L1475 974.6 L1477.4 975.9 L1479.7 977.4 L1482.1 979 L1484.5 980.7 L1486.8 982.7 L1489.2 984.8 L1491.6 987.1 L1493.9 989.6 L1496.3 992.3 L1498.7 995.1 L1501 998 L1503.4 1001 L1505.8 1004 L1508.2 1006.9 L1510.5 1009.6 L1512.9 1012 L1515.3 1014 L1517.6 1015.6 L1520 1017 L1522.4 1018 L1524.7 1018.9 L1527.1 1019.5 L1529.5 1020 L1531.9 1020.5 L1534.2 1021 L1536.6 1021.6 L1539 1022.4 L1541.3 1023.5 L1543.7 1024.7 L1546.1 1026.2 L1548.4 1027.9 L1550.8 1029.7 L1553.2 1031.6 L1555.5 1033.6 L1557.9 1035.6 L1560.3 1037.6 L1562.7 1039.5 L1565 1041.3 L1567.4 1042.9 L1569.8 1044.3 L1572.1 1045.5 L1574.5 1046.6 L1576.9 1047.5 L1579.2 1048.5 L1581.6 1049.4 L1584 1050.5 L1586.4 1051.8 L1588.7 1053.2 L1591.1 1055 L1593.5 1057 L1595.8 1059.5 L1598.2 1062.5 L1600.6 1065.9 L1602.9 1069.4 L1605.3 1072.8 L1607.7 1075.7 L1610 1077.7 L1612.4 1078.9 L1614.8 1080.6 L1617.2 1082.9 L1619.5 1085.5 L1621.9 1088 L1624.3 1090.1 L1626.6 1092.3 L1629 1094.9 L1631.4 1098.3 L1633.7 1101.9 L1636.1 1105.5 L1638.5 1109.4 L1640.8 1113.7 L1643.2 1118.3 L1645.6 1123 L1648 1127.6 L1650.3 1131.8 L1652.7 1135.6 L1655.1 1139 L1657.4 1142.1 L1659.8 1144.6 L1662.2 1146.7 L1664.5 1148.6 L1666.9 1150.5 L1669.3 1152.2 L1671.7 1153.5 L1674 1154.6 L1676.4 1155.8 L1678.8 1157 L1681.1 1158.2 L1683.5 1159.4 L1685.9 1160.5 L1688.2 1161.5 L1690.6 1162.4 L1693 1163.3 L1695.3 1164.5 L1697.7 1165.8 L1700.1 1166.9 L1702.5 1167.8 L1704.8 1168.5 L1707.2 1169.2 L1709.6 1170.1 L1711.9 1170.9 L1714.3 1171.6 L1716.7 1172.3 L1719 1172.9 L1721.4 1173.6 L1723.8 1174.6 L1726.2 1176 L1728.5 1177.8 L1730.9 1180.2 L1733.3 1182.7 L1735.6 1185.4 L1738 1188.3 L1740.4 1191.2 L1742.7 1193.9 L1745.1 1196.2 L1747.5 1198.2 L1749.8 1199.8 L1752.2 1201.4 L1754.6 1203.1 L1757 1204.7 L1759.3 1206 L1761.7 1206.9 L1764.1 1207.5 L1766.4 1208.1 L1768.8 1209.1 L1771.2 1210.3 L1773.5 1211.7 L1775.9 1213.1 L1778.3 1214.2 L1780.6 1214.9 L1783 1215.2 L1785.4 1215.4 L1787.8 1215.6 L1790.1 1216 L1792.5 1216.4 L1794.9 1216.9 L1797.2 1217.5 L1799.6 1218.1 L1802 1218.7"/>
<path stroke="#900000" d="M712 3391.2 L714.4 3353.1 L716.7 3314.5 L719.1 3275.5 L721.5 3236.2 L723.9 3196.7 L726.2 3157 L728.6 3117.4 L731 3077.9 L733.3 3038.6 L735.7 2999.6 L738.1 2961 L740.4 2922.9 L742.8 2885.5 L745.2 2848.7 L747.5 2812.7 L749.9 2777.1 L752.3 2741.3 L754.7 2705.6 L757 2670.1 L759.4 2634.9 L761.8 2600.1 L764.1 2565.8 L766.5 2532.2 L768.9 2499.5 L771.2 2467.6 L773.6 2436.8 L776 2407 L778.4 2378.2 L780.7 2350.2 L783.1 2323.1 L785.5 2296.7 L787.8 2271 L790.2 2245.8 L792.6 2221.2 L794.9 2196.9 L797.3 2173.1 L799.7 2149.4 L802 2126.1 L804.4 2103.3 L806.8 2080.9 L809.2 2059.3 L811.5 2038.4 L813.9 2018.4 L816.3 1999.2 L818.6 1981 L821 1963.9 L823.4 1947.9 L825.7 1933 L828.1 1919.1 L830.5 1906.2 L832.8 1894.2 L835.2 1883 L837.6 1872.6 L840 1863 L842.3 1853.9 L844.7 1845.5 L847.1 1837.7 L849.4 1830.3 L851.8 1823.6 L854.2 1817.4 L856.5 1811.7 L858.9 1806.6 L861.3 1802 L863.7 1797.8 L866 1793.9 L868.4 1790.4 L870.8 1787.1 L873.1 1784 L875.5 1781.2 L877.9 1778.6 L880.2 1776.2 L882.6 1774 L885 1771.9 L887.3 1769.8 L889.7 1767.8 L892.1 1765.7 L894.5 1763.5 L896.8 1761.3 L899.2 1759 L901.6 1756.6 L903.9 1754.3 L906.3 1751.8 L908.7 1749.3 L911 1746.7 L913.4 1743.9 L915.8 1741 L918.2 1737.7 L920.5 1734.2 L922.9 1730.6 L925.3 1726.9 L927.6 1723.2 L930 1719.4 L932.4 1715.6 L934.7 1711.8 L937.1 1707.9 L939.5 1704.1 L941.8 1700.3 L944.2 1696.4 L946.6 1692.5 L949 1688.6 L951.3 1684.7 L953.7 1680.7 L956.1 1676.7 L958.4 1672.8 L960.8 1668.8 L963.2 1664.7 L965.5 1660.5 L967.9 1656.3 L970.3 1651.9 L972.7 1647.3 L975 1642.6 L977.4 1637.7 L979.8 1632.7 L982.1 1627.5 L984.5 1622.2 L986.9 1616.8 L989.2 1611.2 L991.6 1605.5 L994 1599.7 L996.3 1593.8 L998.7 1587.8 L1001.1 1581.6 L1003.5 1575.4 L1005.8 1569.1 L1008.2 1562.6 L1010.6 1556.1 L1012.9 1549.5 L1015.3 1542.8 L1017.7 1536.1 L1020 1529.2 L1022.4 1522.3 L1024.8 1515.4 L1027.1 1508.4 L1029.5 1501.3 L1031.9 1494.1 L1034.3 1486.9 L1036.6 1479.6 L1039 1472.3 L1041.4 1464.9 L1043.7 1457.4 L1046.1 1449.9 L1048.5 1442.3 L1050.8 1434.7 L1053.2 1426.9 L1055.6 1419.2 L1058 1411.3 L1060.3 1403.4 L1062.7 1395.5 L1065.1 1387.5 L1067.4 1379.4 L1069.8 1371.3 L1072.2 1363.2 L1074.5 1355.1 L1076.9 1346.9 L1079.3 1338.8 L1081.6 1330.7 L1084 1322.6 L1086.4 1314.6 L1088.8 1306.5 L1091.1 1298.6 L1093.5 1290.7 L1095.9 1282.9 L1098.2 1275.2 L1100.6 1267.6 L1103 1260 L1105.3 1252.6 L1107.7 1245.2 L1110.1 1238 L1112.5 1230.8 L1114.8 1223.7 L1117.2 1216.7 L1119.6 1209.8 L1121.9 1202.9 L1124.3 1196.1 L1126.7 1189.4 L1129 1182.8 L1131.4 1176.2 L1133.8 1169.7 L1136.1 1163.2 L1138.5 1156.9 L1140.9 1150.6 L1143.3 1144.4 L1145.6 1138.3 L1148 1132.2 L1150.4 1126.3 L1152.7 1120.3 L1155.1 1114.5 L1157.5 1108.6 L1159.8 1102.7 L1162.2 1096.8 L1164.6 1090.7 L1166.9 1084.5 L1169.3 1078.3 L1171.7 1072.2 L1174.1 1066.1 L1176.4 1060.3 L1178.8 1054.7 L1181.2 1049.3 L1183.5 1044.2 L1185.9 1039.2 L1188.3 1034.4 L1190.6 1029.8 L1193 1025.4 L1195.4 1021.2 L1197.8 1017.2 L1200.1 1013.3 L1202.5 1009.6 L1204.9 1006 L1207.2 1002.6 L1209.6 999.4 L1212 996.2 L1214.3 993.2 L1216.7 990.3 L1219.1 987.6 L1221.4 984.9 L1223.8 982.3 L1226.2 979.7 L1228.6 977.2 L1230.9 974.7 L1233.3 972.1 L1235.7 969.6 L1238 967.1 L1240.4 964.7 L1242.8 962.4 L1245.1 960.2 L1247.5 958 L1249.9 955.9 L1252.3 953.8 L1254.6 951.9 L1257 949.9 L1259.4 948 L1261.7 946.2 L1264.1 944.3 L1266.5 942.5 L1268.8 940.7 L1271.2 938.9 L1273.6 937 L1275.9 935.2 L1278.3 933.3 L1280.7 931.4 L1283.1 929.5 L1285.4 927.7 L1287.8 925.9 L1290.2 924.2 L1292.5 922.6 L1294.9 921.1 L1297.3 919.7 L1299.6 918.5 L1302 917.4 L1304.4 916.5 L1306.7 915.6 L1309.1 914.9 L1311.5 914.2 L1313.9 913.7 L1316.2 913.1 L1318.6 912.6 L1321 912.1 L1323.3 911.6 L1325.7 911.1 L1328.1 910.5 L1330.4 910 L1332.8 909.4 L1335.2 908.9 L1337.6 908.3 L1339.9 907.7 L1342.3 907 L1344.7 906.3 L1347 905.6 L1349.4 904.9 L1351.8 904.2 L1354.1 903.4 L1356.5 902.8 L1358.9 902.1 L1361.2 901.6 L1363.6 901.1 L1366 900.8 L1368.4 900.6 L1370.7 900.5 L1373.1 900.5 L1375.5 900.6 L1377.8 900.8 L1380.2 901.1 L1382.6 901.4 L1384.9 901.8 L1387.3 902.3 L1389.7 902.9 L1392.1 903.5 L1394.4 904.2 L1396.8 905 L1399.2 905.8 L1401.5 906.7 L1403.9 907.7 L1406.3 908.7 L1408.6 909.8 L1411 910.9 L1413.4 912.1 L1415.7 913.3 L1418.1 914.4 L1420.5 915.3 L1422.9 916 L1425.2 916.5 L1427.6 916.9 L1430 917.3 L1432.3 917.8 L1434.7 918.5 L1437.1 919.3 L1439.4 920 L1441.8 920.5 L1444.2 920.9 L1446.6 921.5 L1448.9 922.2 L1451.3 923.3 L1453.7 924.6 L1456 926.1 L1458.4 927.6 L1460.8 928.9 L1463.1 930 L1465.5 931.1 L1467.9 932.1 L1470.2 933.1 L1472.6 934.1 L1475 935.1 L1477.4 936.3 L1479.7 937.7 L1482.1 939.3 L1484.5 941.1 L1486.8 943.2 L1489.2 945.8 L1491.6 948.7 L1493.9 952.1 L1496.3 955.9 L1498.7 959.9 L1501 964.1 L1503.4 968.2 L1505.8 972.3 L1508.2 976.2 L1510.5 979.9 L1512.9 983.2 L1515.3 986.2 L1517.6 988.7 L1520 990.8 L1522.4 992.5 L1524.7 993.7 L1527.1 994.6 L1529.5 995.1 L1531.9 995.4 L1534.2 995.7 L1536.6 996 L1539 996.5 L1541.3 997.3 L1543.7 998.3 L1546.1 999.6 L1548.4 1001.1 L1550.8 1002.7 L1553.2 1004.6 L1555.5 1006.5 L1557.9 1008.6 L1560.3 1010.7 L1562.7 1012.8 L1565 1014.8 L1567.4 1016.7 L1569.8 1018.4 L1572.1 1020 L1574.5 1021.5 L1576.9 1022.9 L1579.2 1024.4 L1581.6 1025.9 L1584 1027.4 L1586.4 1029.2 L1588.7 1031.1 L1591.1 1033.1 L1593.5 1035.2 L1595.8 1037.4 L1598.2 1039.6 L1600.6 1041.8 L1602.9 1044 L1605.3 1046.1 L1607.7 1048.1 L1610 1050 L1612.4 1051.8 L1614.8 1053.3 L1617.2 1054.8 L1619.5 1056.4 L1621.9 1058.3 L1624.3 1060.8 L1626.6 1063.9 L1629 1068 L1631.4 1072.8 L1633.7 1076.6 L1636.1 1078.9 L1638.5 1081.5 L1640.8 1085.5 L1643.2 1090.2 L1645.6 1094.9 L1648 1099.8 L1650.3 1104.8 L1652.7 1110 L1655.1 1114.9 L1657.4 1119.3 L1659.8 1122.9 L1662.2 1126.2 L1664.5 1129.3 L1666.9 1132.7 L1669.3 1135.7 L1671.7 1137.7 L1674 1139.4 L1676.4 1141.2 L1678.8 1143.1 L1681.1 1144.9 L1683.5 1146.6 L1685.9 1148.1 L1688.2 1149.1 L1690.6 1149.9 L1693 1150.7 L1695.3 1151.8 L1697.7 1153 L1700.1 1153.9 L1702.5 1154.2 L1704.8 1154.4 L1707.2 1154.6 L1709.6 1155 L1711.9 1155.5 L1714.3 1156 L1716.7 1156.5 L1719 1157.1 L1721.4 1157.8 L1723.8 1158.7 L1726.2 1160.1 L1728.5 1162 L1730.9 1164.5 L1733.3 1167.4 L1735.6 1170.8 L1738 1174.7 L1740.4 1179 L1742.7 1183.5 L1745.1 1188.2 L1747.5 1192.8 L1749.8 1197.2 L1752.2 1201.2 L1754.6 1204.9 L1757 1208.4 L1759.3 1211.4 L1761.7 1213.9 L1764.1 1215.9 L1766.4 1217.9 L1768.8 1219.9 L1771.2 1221.8 L1773.5 1223.7 L1775.9 1225.5 L1778.3 1227.4 L1780.6 1229.3 L1783 1231.2 L1785.4 1233 L1787.8 1234.7 L1790.1 1236 L1792.5 1237.2 L1794.9 1238.2 L1797.2 1239.2 L1799.6 1240.2 L1802 1241.2"/>
<path stroke="#9900ff" d="M712 3327.4 L714.4 3284.8 L716.7 3241.6 L719.1 3198 L721.5 3154.3 L723.9 3110.5 L726.2 3066.9 L728.6 3023.6 L731 2980.9 L733.3 2938.9 L735.7 2897.8 L738.1 2857.8 L740.4 2819.1 L742.8 2781.5 L745.2 2744.3 L747.5 2707.4 L749.9 2671 L752.3 2635.1 L754.7 2599.7 L757 2564.9 L759.4 2530.6 L761.8 2497.1 L764.1 2464.2 L766.5 2432.1 L768.9 2400.7 L771.2 2370.2 L773.6 2340.6 L776 2311.9 L778.4 2284.2 L780.7 2257.5 L783.1 2232 L785.5 2207.6 L787.8 2184.4 L790.2 2162.4 L792.6 2141.7 L794.9 2122.3 L797.3 2104.2 L799.7 2087.3 L802 2071.4 L804.4 2056.3 L806.8 2042.1 L809.2 2028.8 L811.5 2016.1 L813.9 2004.2 L816.3 1992.9 L818.6 1982.2 L821 1972 L823.4 1962.3 L825.7 1953 L828.1 1944.2 L830.5 1935.7 L832.8 1927.7 L835.2 1920.2 L837.6 1913.2 L840 1906.9 L842.3 1901.2 L844.7 1896.1 L847.1 1891.6 L849.4 1887.5 L851.8 1883.7 L854.2 1880.4 L856.5 1877.2 L858.9 1874.3 L861.3 1871.5 L863.7 1868.8 L866 1866.2 L868.4 1863.6 L870.8 1861.2 L873.1 1858.8 L875.5 1856.6 L877.9 1854.5 L880.2 1852.5 L882.6 1850.7 L885 1849 L887.3 1847.3 L889.7 1845.4 L892.1 1842.9 L894.5 1840.1 L896.8 1837.2 L899.2 1834.3 L901.6 1831.6 L903.9 1829.2 L906.3 1827.1 L908.7 1825.5 L911 1824.2 L913.4 1822.9 L915.8 1821.4 L918.2 1819.7 L920.5 1817.6 L922.9 1815 L925.3 1811.9 L927.6 1808.4 L930 1804.5 L932.4 1800.2 L934.7 1795.7 L937.1 1790.9 L939.5 1785.9 L941.8 1780.7 L944.2 1775.3 L946.6 1769.9 L949 1764.3 L951.3 1758.6 L953.7 1752.8 L956.1 1747 L958.4 1741 L960.8 1735 L963.2 1728.9 L965.5 1722.7 L967.9 1716.4 L970.3 1710 L972.7 1703.6 L975 1697.1 L977.4 1690.5 L979.8 1683.8 L982.1 1677 L984.5 1670.2 L986.9 1663.3 L989.2 1656.5 L991.6 1649.5 L994 1642.6 L996.3 1635.6 L998.7 1628.7 L1001.1 1621.7 L1003.5 1614.7 L1005.8 1607.7 L1008.2 1600.6 L1010.6 1593.6 L1012.9 1586.6 L1015.3 1579.5 L1017.7 1572.5 L1020 1565.4 L1022.4 1558.4 L1024.8 1551.3 L1027.1 1544.3 L1029.5 1537.2 L1031.9 1530.2 L1034.3 1523.2 L1036.6 1516.2 L1039 1509.2 L1041.4 1502.2 L1043.7 1495.2 L1046.1 1488.2 L1048.5 1481.2 L1050.8 1474.3 L1053.2 1467.3 L1055.6 1460.4 L1058 1453.5 L1060.3 1446.5 L1062.7 1439.6 L1065.1 1432.7 L1067.4 1425.8 L1069.8 1418.9 L1072.2 1412 L1074.5 1405.2 L1076.9 1398.3 L1079.3 1391.4 L1081.6 1384.6 L1084 1377.8 L1086.4 1371 L1088.8 1364.2 L1091.1 1357.4 L1093.5 1350.7 L1095.9 1344 L1098.2 1337.4 L1100.6 1330.7 L1103 1324.2 L1105.3 1317.7 L1107.7 1311.2 L1110.1 1304.8 L1112.5 1298.5 L1114.8 1292.2 L1117.2 1286 L1119.6 1279.9 L1121.9 1273.9 L1124.3 1267.9 L1126.7 1262 L1129 1256.1 L1131.4 1250.3 L1133.8 1244.6 L1136.1 1239 L1138.5 1233.4 L1140.9 1227.9 L1143.3 1222.4 L1145.6 1217.1 L1148 1211.8 L1150.4 1206.5 L1152.7 1201.4 L1155.1 1196.2 L1157.5 1191.1 L1159.8 1186 L1162.2 1181 L1164.6 1176 L1166.9 1171.2 L1169.3 1166.3 L1171.7 1161.6 L1174.1 1157 L1176.4 1152.5 L1178.8 1148 L1181.2 1143.7 L1183.5 1139.4 L1185.9 1135.2 L1188.3 1131.1 L1190.6 1127 L1193 1123 L1195.4 1119 L1197.8 1115.1 L1200.1 1111.2 L1202.5 1107.4 L1204.9 1103.6 L1207.2 1099.8 L1209.6 1096 L1212 1092.2 L1214.3 1088.5 L1216.7 1084.7 L1219.1 1080.9 L1221.4 1077 L1223.8 1073.1 L1226.2 1069.2 L1228.6 1065.2 L1230.9 1061.1 L1233.3 1057 L1235.7 1053 L1238 1049.2 L1240.4 1045.5 L1242.8 1042.3 L1245.1 1039.3 L1247.5 1036.6 L1249.9 1034.1 L1252.3 1031.9 L1254.6 1029.8 L1257 1027.9 L1259.4 1026.1 L1261.7 1024.4 L1264.1 1022.8 L1266.5 1021.1 L1268.8 1019.6 L1271.2 1018.1 L1273.6 1016.6 L1275.9 1015.3 L1278.3 1014.1 L1280.7 1013 L1283.1 1012 L1285.4 1011.2 L1287.8 1010.5 L1290.2 1010 L1292.5 1009.6 L1294.9 1009.4 L1297.3 1009.4 L1299.6 1009.5 L1302 1009.7 L1304.4 1010 L1306.7 1010.3 L1309.1 1010.8 L1311.5 1011.3 L1313.9 1011.8 L1316.2 1012.3 L1318.6 1012.9 L1321 1013.4 L1323.3 1013.8 L1325.7 1014.2 L1328.1 1014.6 L1330.4 1014.8 L1332.8 1014.9 L1335.2 1015 L1337.6 1015 L1339.9 1014.9 L1342.3 1014.8 L1344.7 1014.7 L1347 1014.5 L1349.4 1014.3 L1351.8 1014.1 L1354.1 1013.9 L1356.5 1013.8 L1358.9 1013.7 L1361.2 1013.7 L1363.6 1013.7 L1366 1013.9 L1368.4 1014.2 L1370.7 1014.7 L1373.1 1015.2 L1375.5 1016 L1377.8 1016.8 L1380.2 1017.8 L1382.6 1018.9 L1384.9 1020.1 L1387.3 1021.3 L1389.7 1022.6 L1392.1 1023.9 L1394.4 1025.3 L1396.8 1026.6 L1399.2 1027.9 L1401.5 1029.2 L1403.9 1030.5 L1406.3 1031.7 L1408.6 1033 L1411 1034.1 L1413.4 1035.2 L1415.7 1036.3 L1418.1 1037.3 L1420.5 1038.2 L1422.9 1039 L1425.2 1039.8 L1427.6 1040.5 L1430 1041.3 L1432.3 1042.1 L1434.7 1042.9 L1437.1 1043.9 L1439.4 1044.9 L1441.8 1046.1 L1444.2 1047.4 L1446.6 1048.8 L1448.9 1050.4 L1451.3 1052 L1453.7 1053.6 L1456 1055.4 L1458.4 1057.2 L1460.8 1059 L1463.1 1060.8 L1465.5 1062.6 L1467.9 1064.5 L1470.2 1066.4 L1472.6 1068.3 L1475 1070.2 L1477.4 1072.2 L1479.7 1074.1 L1482.1 1076.2 L1484.5 1078.4 L1486.8 1080.9 L1489.2 1083.7 L1491.6 1086.9 L1493.9 1090.7 L1496.3 1094.8 L1498.7 1099 L1501 1103.1 L1503.4 1107 L1505.8 1110.5 L1508.2 1113.6 L1510.5 1116.1 L1512.9 1118.1 L1515.3 1119.4 L1517.6 1120.3 L1520 1121 L1522.4 1121.4 L1524.7 1121.6 L1527.1 1121.3 L1529.5 1120.9 L1531.9 1120.3 L1534.2 1119.9 L1536.6 1119.8 L1539 1120 L1541.3 1120.7 L1543.7 1122 L1546.1 1123.9 L1548.4 1126.3 L1550.8 1129 L1553.2 1131.6 L1555.5 1133.9 L1557.9 1135.7 L1560.3 1137.4 L1562.7 1139.1 L1565 1140.7 L1567.4 1142.2 L1569.8 1143.6 L1572.1 1144.8 L1574.5 1145.9 L1576.9 1147 L1579.2 1148.2 L1581.6 1149.5 L1584 1150.8 L1586.4 1152.2 L1588.7 1153.7 L1591.1 1155.2 L1593.5 1156.8 L1595.8 1158.4 L1598.2 1160.1 L1600.6 1161.8 L1602.9 1163.4 L1605.3 1165 L1607.7 1166.5 L1610 1167.8 L1612.4 1169.1 L1614.8 1170.3 L1617.2 1171.6 L1619.5 1172.9 L1621.9 1174.2 L1624.3 1175.4 L1626.6 1176.9 L1629 1178.7 L1631.4 1180.9 L1633.7 1183.4 L1636.1 1186.4 L1638.5 1189.8 L1640.8 1193.7 L1643.2 1197.8 L1645.6 1202 L1648 1206.4 L1650.3 1211.2 L1652.7 1215.9 L1655.1 1220.3 L1657.4 1224.2 L1659.8 1227.5 L1662.2 1230.2 L1664.5 1232.5 L1666.9 1234.5 L1669.3 1236.3 L1671.7 1237.9 L1674 1239.3 L1676.4 1240.7 L1678.8 1241.9 L1681.1 1243.1 L1683.5 1244.2 L1685.9 1245.2 L1688.2 1246.1 L1690.6 1247 L1693 1247.8 L1695.3 1248.4 L1697.7 1249 L1700.1 1249.5 L1702.5 1249.8 L1704.8 1250 L1707.2 1250.1 L1709.6 1250 L1711.9 1249.7 L1714.3 1249.4 L1716.7 1249.1 L1719 1248.7 L1721.4 1248.6 L1723.8 1248.7 L1726.2 1249.2 L1728.5 1250.3 L1730.9 1252 L1733.3 1254.2 L1735.6 1256.8 L1738 1259.8 L1740.4 1263 L1742.7 1266.4 L1745.1 1269.8 L1747.5 1273 L1749.8 1276.1 L1752.2 1278.8 L1754.6 1281.2 L1757 1283.2 L1759.3 1284.9 L1761.7 1286.3 L1764.1 1287.5 L1766.4 1288.4 L1768.8 1289.1 L1771.2 1289.8 L1773.5 1290.4 L1775.9 1290.9 L1778.3 1291.5 L1780.6 1292.2 L1783 1292.9 L1785.4 1293.7 L1787.8 1294.6 L1790.1 1295.5 L1792.5 1296.3 L1794.9 1297.2 L1797.2 1298 L1799.6 1298.9 L1802 1299.7"/>
<path stroke="#900080" d="M712 3191.1 L714.4 3146.5 L716.7 3102.1 L719.1 3058.2 L721.5 3014.8 L723.9 2972.3 L726.2 2930.9 L728.6 2890.6 L731 2851.7 L733.3 2814.5 L735.7 2778.2 L738.1 2742.1 L740.4 2706.2 L742.8 2670.6 L745.2 2635.3 L747.5 2600.4 L749.9 2565.9 L752.3 2531.8 L754.7 2498.2 L757 2465 L759.4 2432.5 L761.8 2400.5 L764.1 2369.3 L766.5 2338.8 L768.9 2309.1 L771.2 2280.4 L773.6 2252.6 L776 2226 L778.4 2200.5 L780.7 2176.3 L783.1 2153.4 L785.5 2131.8 L787.8 2111.8 L790.2 2093.4 L792.6 2076.2 L794.9 2059.8 L797.3 2044.1 L799.7 2029.5 L802 2015.8 L804.4 2003.1 L806.8 1991.3 L809.2 1980.2 L811.5 1969.8 L813.9 1960.1 L816.3 1951 L818.6 1942.4 L821 1934.3 L823.4 1926.7 L825.7 1919.5 L828.1 1912.7 L830.5 1906.4 L832.8 1900.4 L835.2 1894.8 L837.6 1889.5 L840 1884.6 L842.3 1880 L844.7 1875.7 L847.1 1871.8 L849.4 1868.1 L851.8 1864.6 L854.2 1861.3 L856.5 1858.1 L858.9 1854.9 L861.3 1851.9 L863.7 1848.8 L866 1845.8 L868.4 1842.7 L870.8 1839.7 L873.1 1836.6 L875.5 1833.7 L877.9 1830.7 L880.2 1827.8 L882.6 1825 L885 1822.2 L887.3 1819.4 L889.7 1816.6 L892.1 1813.6 L894.5 1810.4 L896.8 1807 L899.2 1803.7 L901.6 1800.6 L903.9 1797.8 L906.3 1795.1 L908.7 1792.5 L911 1790 L913.4 1787.5 L915.8 1784.9 L918.2 1782 L920.5 1778.6 L922.9 1774.7 L925.3 1770.3 L927.6 1765.4 L930 1760 L932.4 1754.3 L934.7 1748.2 L937.1 1741.9 L939.5 1735.4 L941.8 1728.7 L944.2 1721.9 L946.6 1715 L949 1708.1 L951.3 1701 L953.7 1694 L956.1 1686.8 L958.4 1679.7 L960.8 1672.5 L963.2 1665.2 L965.5 1657.9 L967.9 1650.6 L970.3 1643.2 L972.7 1635.8 L975 1628.3 L977.4 1620.9 L979.8 1613.4 L982.1 1605.8 L984.5 1598.2 L986.9 1590.6 L989.2 1583 L991.6 1575.3 L994 1567.6 L996.3 1559.9 L998.7 1552.1 L1001.1 1544.3 L1003.5 1536.5 L1005.8 1528.6 L1008.2 1520.7 L1010.6 1512.8 L1012.9 1504.9 L1015.3 1497 L1017.7 1489.1 L1020 1481.2 L1022.4 1473.4 L1024.8 1465.6 L1027.1 1457.9 L1029.5 1450.2 L1031.9 1442.6 L1034.3 1435.1 L1036.6 1427.7 L1039 1420.5 L1041.4 1413.3 L1043.7 1406.3 L1046.1 1399.4 L1048.5 1392.7 L1050.8 1386.1 L1053.2 1379.6 L1055.6 1373.2 L1058 1366.9 L1060.3 1360.7 L1062.7 1354.5 L1065.1 1348.3 L1067.4 1342.1 L1069.8 1335.9 L1072.2 1329.7 L1074.5 1323.5 L1076.9 1317.2 L1079.3 1311 L1081.6 1304.7 L1084 1298.4 L1086.4 1292.1 L1088.8 1285.7 L1091.1 1279.4 L1093.5 1273.1 L1095.9 1266.7 L1098.2 1260.4 L1100.6 1254 L1103 1247.7 L1105.3 1241.4 L1107.7 1235.1 L1110.1 1228.9 L1112.5 1222.7 L1114.8 1216.6 L1117.2 1210.5 L1119.6 1204.5 L1121.9 1198.6 L1124.3 1192.8 L1126.7 1187.1 L1129 1181.4 L1131.4 1175.8 L1133.8 1170.3 L1136.1 1164.8 L1138.5 1159.5 L1140.9 1154.2 L1143.3 1149.1 L1145.6 1144 L1148 1139.1 L1150.4 1134.4 L1152.7 1129.8 L1155.1 1125.3 L1157.5 1121 L1159.8 1116.8 L1162.2 1112.7 L1164.6 1108.7 L1166.9 1104.8 L1169.3 1100.8 L1171.7 1096.8 L1174.1 1092.7 L1176.4 1088.5 L1178.8 1084.3 L1181.2 1080.1 L1183.5 1075.9 L1185.9 1071.7 L1188.3 1067.6 L1190.6 1063.5 L1193 1059.6 L1195.4 1055.7 L1197.8 1052 L1200.1 1048.4 L1202.5 1044.9 L1204.9 1041.5 L1207.2 1038.2 L1209.6 1035.1 L1212 1032.1 L1214.3 1029.3 L1216.7 1026.6 L1219.1 1024.1 L1221.4 1021.7 L1223.8 1019.5 L1226.2 1017.5 L1228.6 1015.6 L1230.9 1013.9 L1233.3 1012.4 L1235.7 1011 L1238 1009.8 L1240.4 1008.6 L1242.8 1007.5 L1245.1 1006.5 L1247.5 1005.5 L1249.9 1004.5 L1252.3 1003.5 L1254.6 1002.5 L1257 1001.4 L1259.4 1000.4 L1261.7 999.3 L1264.1 998.2 L1266.5 997.2 L1268.8 996.2 L1271.2 995.3 L1273.6 994.3 L1275.9 993.5 L1278.3 992.7 L1280.7 992 L1283.1 991.4 L1285.4 990.9 L1287.8 990.5 L1290.2 990.3 L1292.5 990.1 L1294.9 990.1 L1297.3 990.3 L1299.6 990.6 L1302 991.1 L1304.4 991.7 L1306.7 992.4 L1309.1 993.3 L1311.5 994.2 L1313.9 995.2 L1316.2 996.2 L1318.6 997.2 L1321 998.2 L1323.3 999.2 L1325.7 1000.1 L1328.1 1000.9 L1330.4 1001.6 L1332.8 1002.1 L1335.2 1002.6 L1337.6 1003 L1339.9 1003.3 L1342.3 1003.5 L1344.7 1003.7 L1347 1003.9 L1349.4 1004 L1351.8 1004.1 L1354.1 1004.2 L1356.5 1004.3 L1358.9 1004.4 L1361.2 1004.5 L1363.6 1004.7 L1366 1004.9 L1368.4 1005.1 L1370.7 1005.5 L1373.1 1005.9 L1375.5 1006.5 L1377.8 1007.2 L1380.2 1007.9 L1382.6 1008.9 L1384.9 1009.9 L1387.3 1011.1 L1389.7 1012.4 L1392.1 1013.9 L1394.4 1015.6 L1396.8 1017.3 L1399.2 1019.3 L1401.5 1021.3 L1403.9 1023.5 L1406.3 1025.8 L1408.6 1028.2 L1411 1030.6 L1413.4 1033 L1415.7 1035.2 L1418.1 1037.3 L1420.5 1039 L1422.9 1040.4 L1425.2 1041.7 L1427.6 1042.8 L1430 1043.7 L1432.3 1044.6 L1434.7 1045.4 L1437.1 1046.1 L1439.4 1046.8 L1441.8 1047.6 L1444.2 1048.5 L1446.6 1049.7 L1448.9 1051.2 L1451.3 1053 L1453.7 1055.1 L1456 1057.4 L1458.4 1059.8 L1460.8 1062 L1463.1 1064 L1465.5 1066 L1467.9 1067.9 L1470.2 1069.7 L1472.6 1071.5 L1475 1073.3 L1477.4 1075.1 L1479.7 1077 L1482.1 1079 L1484.5 1081.2 L1486.8 1083.6 L1489.2 1086.5 L1491.6 1089.8 L1493.9 1093.7 L1496.3 1097.9 L1498.7 1102.3 L1501 1106.7 L1503.4 1110.9 L1505.8 1114.8 L1508.2 1118.3 L1510.5 1121.5 L1512.9 1124.4 L1515.3 1126.9 L1517.6 1128.8 L1520 1130.2 L1522.4 1130.8 L1524.7 1130.8 L1527.1 1130.6 L1529.5 1130.2 L1531.9 1129.7 L1534.2 1129.3 L1536.6 1128.9 L1539 1128.7 L1541.3 1128.7 L1543.7 1128.9 L1546.1 1129.4 L1548.4 1130.2 L1550.8 1131.1 L1553.2 1132.3 L1555.5 1133.6 L1557.9 1134.9 L1560.3 1136.2 L1562.7 1137.6 L1565 1139 L1567.4 1140.4 L1569.8 1141.6 L1572.1 1142.7 L1574.5 1143.8 L1576.9 1144.8 L1579.2 1146 L1581.6 1147.4 L1584 1148.8 L1586.4 1150.2 L1588.7 1151.7 L1591.1 1153.2 L1593.5 1155 L1595.8 1156.9 L1598.2 1158.7 L1600.6 1160.4 L1602.9 1161.9 L1605.3 1163.3 L1607.7 1164.8 L1610 1166.3 L1612.4 1167.6 L1614.8 1168.7 L1617.2 1169.7 L1619.5 1170.6 L1621.9 1171.7 L1624.3 1173 L1626.6 1174.6 L1629 1176.3 L1631.4 1178.4 L1633.7 1180.7 L1636.1 1183.4 L1638.5 1186.5 L1640.8 1190.1 L1643.2 1193.9 L1645.6 1198 L1648 1202.2 L1650.3 1206.5 L1652.7 1210.4 L1655.1 1213.9 L1657.4 1217.1 L1659.8 1219.9 L1662.2 1222.3 L1664.5 1224.4 L1666.9 1226.2 L1669.3 1227.6 L1671.7 1229 L1674 1230.5 L1676.4 1231.8 L1678.8 1232.8 L1681.1 1233.6 L1683.5 1234.2 L1685.9 1234.9 L1688.2 1235.8 L1690.6 1236.5 L1693 1237.2 L1695.3 1237.4 L1697.7 1237.6 L1700.1 1237.7 L1702.5 1238.2 L1704.8 1238.5 L1707.2 1238.5 L1709.6 1238.2 L1711.9 1237.7 L1714.3 1237.1 L1716.7 1236.8 L1719 1236.7 L1721.4 1236.8 L1723.8 1237.1 L1726.2 1237.5 L1728.5 1238.2 L1730.9 1239 L1733.3 1240 L1735.6 1241.3 L1738 1242.8 L1740.4 1244.7 L1742.7 1246.7 L1745.1 1248.8 L1747.5 1251 L1749.8 1253.3 L1752.2 1255.4 L1754.6 1257.5 L1757 1259.4 L1759.3 1261.2 L1761.7 1262.8 L1764.1 1264.2 L1766.4 1265.5 L1768.8 1266.7 L1771.2 1267.7 L1773.5 1268.7 L1775.9 1269.6 L1778.3 1270.4 L1780.6 1271.2 L1783 1271.9 L1785.4 1272.6 L1787.8 1273.3 L1790.1 1273.8 L1792.5 1274.3 L1794.9 1274.7 L1797.2 1275 L1799.6 1275.3 L1802 1275.6"/>
</g>
<g>
<text class="it" text-anchor="end" transform="translate(719 1665.2) scale(1.0 1.07)">70.0</text><text class="it" text-anchor="end" transform="translate(719 1572.5) scale(1.0 1.07)">72.5</text><text class="it" text-anchor="end" transform="translate(719 1479.8) scale(1.0 1.07)">75.0</text><text class="it" text-anchor="end" transform="translate(719 1387.1) scale(1.0 1.07)">77.5</text><text class="it" text-anchor="end" transform="translate(719 1294.4) scale(1.0 1.07)">80.0</text><text class="it" text-anchor="end" transform="translate(719 1201.7) scale(1.0 1.07)">82.5</text><text class="it" text-anchor="end" transform="translate(719 1109) scale(1.0 1.07)">85.0</text><text class="it" text-anchor="end" transform="translate(719 1016.3) scale(1.0 1.07)">87.5</text><text class="it" text-anchor="end" transform="translate(719 923.6) scale(1.0 1.07)">90.0</text><text class="it" text-anchor="end" transform="translate(719 830.9) scale(1.0 1.07)">92.5</text>
</g>
<g>
<text class="it" text-anchor="middle" transform="translate(854.2 1700.7) scale(0.99 1.04)">400</text><text class="it" text-anchor="middle" transform="translate(1091.1 1700.7) scale(0.99 1.04)">500</text><text class="it" text-anchor="middle" transform="translate(1328.1 1700.7) scale(0.99 1.04)">600</text><text class="it" text-anchor="middle" transform="translate(1565 1700.7) scale(0.99 1.04)">700</text><text class="it" text-anchor="middle" transform="translate(1802 1700.7) scale(0.99 1.04)">800</text>
</g>
<text class="ititle" text-anchor="middle" transform="translate(1269.5 1773) scale(0.982 1.07)">Wavelength (nm)</text>
<text class="ititle" text-anchor="middle" transform="translate(607.2 1231.5) rotate(-90) scale(1.03 1.08)">Transmittance (%)</text>
<g class="c" stroke-width="13">
<path stroke="#000000" d="M1826.5 815H1992.5"/><path stroke="#ff0000" d="M1826.5 906.1H1992.5"/><path stroke="#0000ff" d="M1826.5 997.2H1992.5"/><path stroke="#ff00ff" d="M1826.5 1088.3H1992.5"/><path stroke="#008000" d="M1826.5 1179.4H1992.5"/><path stroke="#900000" d="M1826.5 1270.5H1992.5"/><path stroke="#9900ff" d="M1826.5 1361.6H1992.5"/><path stroke="#900080" d="M1826.5 1452.7H1992.5"/>
</g>
<g>
<text class="leg" transform="translate(2009.5 840.4) scale(0.98 1.054)">TCO-I_RT</text><text class="leg" transform="translate(2009.5 931.5) scale(0.98 1.054)">TCO-II_RT</text><text class="leg" transform="translate(2009.5 1022.6) scale(0.98 1.054)">TCO-I_200°C</text><text class="leg" transform="translate(2009.5 1113.7) scale(0.98 1.054)">TCO-II_200°C</text><text class="leg" transform="translate(2009.5 1204.8) scale(0.98 1.054)">TCO-III_RT</text><text class="leg" transform="translate(2009.5 1295.9) scale(0.98 1.054)">TCO-IV_RT</text><text class="leg" transform="translate(2009.5 1387) scale(0.98 1.054)">TCO-III_200°C</text><text class="leg" transform="translate(2009.5 1478.1) scale(0.98 1.054)">TCO-IV_200°C</text>
</g>
<text class="lab" text-anchor="middle" transform="translate(2283 171) scale(0.95 0.99)">a</text>
<text class="lab" text-anchor="middle" transform="translate(1738 925.8) scale(1.0 0.97)">b</text>
</svg>
</body>
</html>
